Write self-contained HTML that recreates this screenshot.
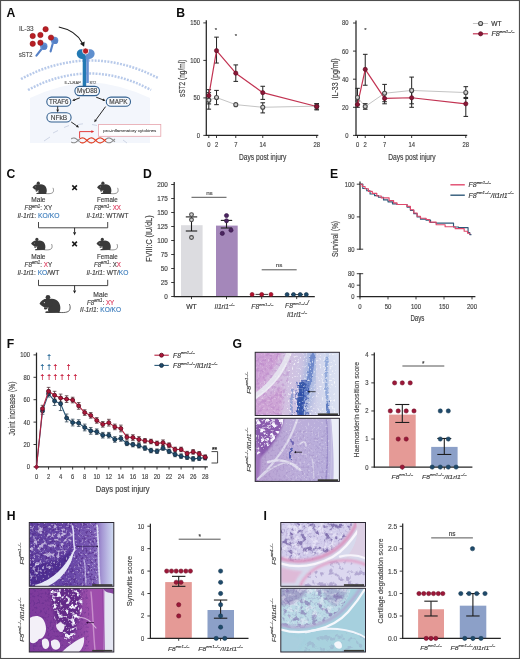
<!DOCTYPE html>
<html lang="en">
<head>
<meta charset="utf-8">
<title>Figure</title>
<style>
html,body{margin:0;padding:0;background:#fff;}
body{width:520px;height:659px;overflow:hidden;}
svg{display:block;font-family:'Liberation Sans', sans-serif;}
svg text{font-family:"Liberation Sans",sans-serif;}
</style>
</head>
<body>
<svg width="520" height="659" viewBox="0 0 520 659">
<rect x="0" y="0" width="520" height="659" fill="#ffffff"/>
<g id="panelB">
<text x="176.2" y="16.9" font-size="12.2" font-weight="bold" fill="#0d0d0d">B</text>
<line x1="206.30" y1="20.30" x2="206.30" y2="135.90" stroke="#242424" stroke-width="1.25"/>
<line x1="205.80" y1="135.40" x2="318.30" y2="135.40" stroke="#242424" stroke-width="1.25"/>
<line x1="203.30" y1="135.40" x2="206.30" y2="135.40" stroke="#242424" stroke-width="0.9"/>
<text x="196.65" y="137.80" font-size="7.3" fill="#444444" stroke="#444444" stroke-width="0.161" font-weight="normal" font-style="normal" textLength="3.25" lengthAdjust="spacingAndGlyphs">0</text>
<line x1="203.30" y1="97.90" x2="206.30" y2="97.90" stroke="#242424" stroke-width="0.9"/>
<text x="193.40" y="100.30" font-size="7.3" fill="#444444" stroke="#444444" stroke-width="0.161" font-weight="normal" font-style="normal" textLength="6.50" lengthAdjust="spacingAndGlyphs">50</text>
<line x1="203.30" y1="60.40" x2="206.30" y2="60.40" stroke="#242424" stroke-width="0.9"/>
<text x="190.15" y="62.80" font-size="7.3" fill="#444444" stroke="#444444" stroke-width="0.161" font-weight="normal" font-style="normal" textLength="9.75" lengthAdjust="spacingAndGlyphs">100</text>
<line x1="203.30" y1="22.90" x2="206.30" y2="22.90" stroke="#242424" stroke-width="0.9"/>
<text x="190.15" y="25.30" font-size="7.3" fill="#444444" stroke="#444444" stroke-width="0.161" font-weight="normal" font-style="normal" textLength="9.75" lengthAdjust="spacingAndGlyphs">150</text>
<line x1="208.80" y1="135.40" x2="208.80" y2="138.00" stroke="#242424" stroke-width="0.9"/>
<text x="207.18" y="146.80" font-size="7.3" fill="#444444" stroke="#444444" stroke-width="0.161" font-weight="normal" font-style="normal" textLength="3.25" lengthAdjust="spacingAndGlyphs">0</text>
<line x1="216.51" y1="135.40" x2="216.51" y2="138.00" stroke="#242424" stroke-width="0.9"/>
<text x="214.88" y="146.80" font-size="7.3" fill="#444444" stroke="#444444" stroke-width="0.161" font-weight="normal" font-style="normal" textLength="3.25" lengthAdjust="spacingAndGlyphs">2</text>
<line x1="235.78" y1="135.40" x2="235.78" y2="138.00" stroke="#242424" stroke-width="0.9"/>
<text x="234.15" y="146.80" font-size="7.3" fill="#444444" stroke="#444444" stroke-width="0.161" font-weight="normal" font-style="normal" textLength="3.25" lengthAdjust="spacingAndGlyphs">7</text>
<line x1="262.76" y1="135.40" x2="262.76" y2="138.00" stroke="#242424" stroke-width="0.9"/>
<text x="259.51" y="146.80" font-size="7.3" fill="#444444" stroke="#444444" stroke-width="0.161" font-weight="normal" font-style="normal" textLength="6.50" lengthAdjust="spacingAndGlyphs">14</text>
<line x1="316.71" y1="135.40" x2="316.71" y2="138.00" stroke="#242424" stroke-width="0.9"/>
<text x="313.46" y="146.80" font-size="7.3" fill="#444444" stroke="#444444" stroke-width="0.161" font-weight="normal" font-style="normal" textLength="6.50" lengthAdjust="spacingAndGlyphs">28</text>
<text x="238.95" y="159.60" font-size="8.2" fill="#444444" stroke="#444444" stroke-width="0.180" font-weight="normal" font-style="normal" textLength="47.50" lengthAdjust="spacingAndGlyphs">Days post injury</text>
<text x="-18.75" y="0.00" font-size="8.2" fill="#444444" stroke="#444444" stroke-width="0.180" font-weight="normal" font-style="normal" textLength="37.50" lengthAdjust="spacingAndGlyphs" transform="translate(185.00 78.35) rotate(-90)">sST2 (ng/ml)</text>
<polyline points="208.80,100.15 216.51,97.53 235.78,104.65 262.76,107.28 316.71,106.15" fill="none" stroke="#c4c4c4" stroke-width="1.0" stroke-linejoin="round"/>
<line x1="208.80" y1="92.65" x2="208.80" y2="109.15" stroke="#2a2a2a" stroke-width="1.05"/>
<line x1="206.50" y1="92.65" x2="211.10" y2="92.65" stroke="#2a2a2a" stroke-width="1.05"/>
<line x1="206.50" y1="109.15" x2="211.10" y2="109.15" stroke="#2a2a2a" stroke-width="1.05"/>
<line x1="216.51" y1="90.40" x2="216.51" y2="104.65" stroke="#2a2a2a" stroke-width="1.05"/>
<line x1="214.21" y1="90.40" x2="218.81" y2="90.40" stroke="#2a2a2a" stroke-width="1.05"/>
<line x1="214.21" y1="104.65" x2="218.81" y2="104.65" stroke="#2a2a2a" stroke-width="1.05"/>
<line x1="262.76" y1="102.78" x2="262.76" y2="112.90" stroke="#2a2a2a" stroke-width="1.05"/>
<line x1="260.46" y1="102.78" x2="265.06" y2="102.78" stroke="#2a2a2a" stroke-width="1.05"/>
<line x1="260.46" y1="112.90" x2="265.06" y2="112.90" stroke="#2a2a2a" stroke-width="1.05"/>
<line x1="316.71" y1="103.90" x2="316.71" y2="109.15" stroke="#2a2a2a" stroke-width="1.05"/>
<line x1="314.41" y1="103.90" x2="319.01" y2="103.90" stroke="#2a2a2a" stroke-width="1.05"/>
<line x1="314.41" y1="109.15" x2="319.01" y2="109.15" stroke="#2a2a2a" stroke-width="1.05"/>
<line x1="208.80" y1="89.65" x2="208.80" y2="103.90" stroke="#2a2a2a" stroke-width="1.05"/>
<line x1="206.50" y1="89.65" x2="211.10" y2="89.65" stroke="#2a2a2a" stroke-width="1.05"/>
<line x1="206.50" y1="103.90" x2="211.10" y2="103.90" stroke="#2a2a2a" stroke-width="1.05"/>
<line x1="216.51" y1="37.15" x2="216.51" y2="63.03" stroke="#2a2a2a" stroke-width="1.05"/>
<line x1="214.21" y1="37.15" x2="218.81" y2="37.15" stroke="#2a2a2a" stroke-width="1.05"/>
<line x1="214.21" y1="63.03" x2="218.81" y2="63.03" stroke="#2a2a2a" stroke-width="1.05"/>
<line x1="235.78" y1="64.90" x2="235.78" y2="81.40" stroke="#2a2a2a" stroke-width="1.05"/>
<line x1="233.48" y1="64.90" x2="238.08" y2="64.90" stroke="#2a2a2a" stroke-width="1.05"/>
<line x1="233.48" y1="81.40" x2="238.08" y2="81.40" stroke="#2a2a2a" stroke-width="1.05"/>
<line x1="262.76" y1="86.28" x2="262.76" y2="99.40" stroke="#2a2a2a" stroke-width="1.05"/>
<line x1="260.46" y1="86.28" x2="265.06" y2="86.28" stroke="#2a2a2a" stroke-width="1.05"/>
<line x1="260.46" y1="99.40" x2="265.06" y2="99.40" stroke="#2a2a2a" stroke-width="1.05"/>
<line x1="316.71" y1="103.53" x2="316.71" y2="109.90" stroke="#2a2a2a" stroke-width="1.05"/>
<line x1="314.41" y1="103.53" x2="319.01" y2="103.53" stroke="#2a2a2a" stroke-width="1.05"/>
<line x1="314.41" y1="109.90" x2="319.01" y2="109.90" stroke="#2a2a2a" stroke-width="1.05"/>
<polyline points="208.80,95.65 216.51,50.65 235.78,73.15 262.76,92.65 316.71,106.53" fill="none" stroke="#c23352" stroke-width="1.2" stroke-linejoin="round"/>
<circle cx="208.80" cy="100.15" r="2.0" fill="#d0d0d0" stroke="#4a4a4a" stroke-width="1.1"/>
<circle cx="216.51" cy="97.53" r="2.0" fill="#d0d0d0" stroke="#4a4a4a" stroke-width="1.1"/>
<circle cx="235.78" cy="104.65" r="2.0" fill="#d0d0d0" stroke="#4a4a4a" stroke-width="1.1"/>
<circle cx="262.76" cy="107.28" r="2.0" fill="#d0d0d0" stroke="#4a4a4a" stroke-width="1.1"/>
<circle cx="316.71" cy="106.15" r="2.0" fill="#d0d0d0" stroke="#4a4a4a" stroke-width="1.1"/>
<circle cx="208.80" cy="95.65" r="2.1" fill="#8c1737" stroke="#5e0d24" stroke-width="0.7"/>
<circle cx="216.51" cy="50.65" r="2.1" fill="#8c1737" stroke="#5e0d24" stroke-width="0.7"/>
<circle cx="235.78" cy="73.15" r="2.1" fill="#8c1737" stroke="#5e0d24" stroke-width="0.7"/>
<circle cx="262.76" cy="92.65" r="2.1" fill="#8c1737" stroke="#5e0d24" stroke-width="0.7"/>
<circle cx="316.71" cy="106.53" r="2.1" fill="#8c1737" stroke="#5e0d24" stroke-width="0.7"/>
<text x="216.00" y="31.50" font-size="6" fill="#333" stroke="#333" stroke-width="0.132" font-weight="normal" font-style="normal" text-anchor="middle">*</text>
<text x="235.80" y="38.00" font-size="6" fill="#333" stroke="#333" stroke-width="0.132" font-weight="normal" font-style="normal" text-anchor="middle">*</text>
<line x1="356.00" y1="20.40" x2="356.00" y2="135.90" stroke="#242424" stroke-width="1.25"/>
<line x1="355.50" y1="135.40" x2="467.20" y2="135.40" stroke="#242424" stroke-width="1.25"/>
<line x1="353.00" y1="135.40" x2="356.00" y2="135.40" stroke="#242424" stroke-width="0.9"/>
<text x="345.35" y="137.80" font-size="7.3" fill="#444444" stroke="#444444" stroke-width="0.161" font-weight="normal" font-style="normal" textLength="3.25" lengthAdjust="spacingAndGlyphs">0</text>
<line x1="353.00" y1="107.30" x2="356.00" y2="107.30" stroke="#242424" stroke-width="0.9"/>
<text x="342.10" y="109.70" font-size="7.3" fill="#444444" stroke="#444444" stroke-width="0.161" font-weight="normal" font-style="normal" textLength="6.50" lengthAdjust="spacingAndGlyphs">20</text>
<line x1="353.00" y1="79.20" x2="356.00" y2="79.20" stroke="#242424" stroke-width="0.9"/>
<text x="342.10" y="81.60" font-size="7.3" fill="#444444" stroke="#444444" stroke-width="0.161" font-weight="normal" font-style="normal" textLength="6.50" lengthAdjust="spacingAndGlyphs">40</text>
<line x1="353.00" y1="51.10" x2="356.00" y2="51.10" stroke="#242424" stroke-width="0.9"/>
<text x="342.10" y="53.50" font-size="7.3" fill="#444444" stroke="#444444" stroke-width="0.161" font-weight="normal" font-style="normal" textLength="6.50" lengthAdjust="spacingAndGlyphs">60</text>
<line x1="353.00" y1="23.00" x2="356.00" y2="23.00" stroke="#242424" stroke-width="0.9"/>
<text x="342.10" y="25.40" font-size="7.3" fill="#444444" stroke="#444444" stroke-width="0.161" font-weight="normal" font-style="normal" textLength="6.50" lengthAdjust="spacingAndGlyphs">80</text>
<line x1="357.50" y1="135.40" x2="357.50" y2="138.00" stroke="#242424" stroke-width="0.9"/>
<text x="355.88" y="146.80" font-size="7.3" fill="#444444" stroke="#444444" stroke-width="0.161" font-weight="normal" font-style="normal" textLength="3.25" lengthAdjust="spacingAndGlyphs">0</text>
<line x1="365.24" y1="135.40" x2="365.24" y2="138.00" stroke="#242424" stroke-width="0.9"/>
<text x="363.61" y="146.80" font-size="7.3" fill="#444444" stroke="#444444" stroke-width="0.161" font-weight="normal" font-style="normal" textLength="3.25" lengthAdjust="spacingAndGlyphs">2</text>
<line x1="384.58" y1="135.40" x2="384.58" y2="138.00" stroke="#242424" stroke-width="0.9"/>
<text x="382.95" y="146.80" font-size="7.3" fill="#444444" stroke="#444444" stroke-width="0.161" font-weight="normal" font-style="normal" textLength="3.25" lengthAdjust="spacingAndGlyphs">7</text>
<line x1="411.65" y1="135.40" x2="411.65" y2="138.00" stroke="#242424" stroke-width="0.9"/>
<text x="408.40" y="146.80" font-size="7.3" fill="#444444" stroke="#444444" stroke-width="0.161" font-weight="normal" font-style="normal" textLength="6.50" lengthAdjust="spacingAndGlyphs">14</text>
<line x1="465.80" y1="135.40" x2="465.80" y2="138.00" stroke="#242424" stroke-width="0.9"/>
<text x="462.55" y="146.80" font-size="7.3" fill="#444444" stroke="#444444" stroke-width="0.161" font-weight="normal" font-style="normal" textLength="6.50" lengthAdjust="spacingAndGlyphs">28</text>
<text x="388.15" y="159.60" font-size="8.2" fill="#444444" stroke="#444444" stroke-width="0.180" font-weight="normal" font-style="normal" textLength="47.50" lengthAdjust="spacingAndGlyphs">Days post injury</text>
<text x="-20.00" y="0.00" font-size="8.2" fill="#444444" stroke="#444444" stroke-width="0.180" font-weight="normal" font-style="normal" textLength="40.00" lengthAdjust="spacingAndGlyphs" transform="translate(337.60 78.40) rotate(-90)">IL-33 (pg/ml)</text>
<polyline points="357.50,97.47 365.24,106.60 384.58,93.25 411.65,90.44 465.80,92.55" fill="none" stroke="#c4c4c4" stroke-width="1.0" stroke-linejoin="round"/>
<line x1="357.50" y1="88.33" x2="357.50" y2="104.49" stroke="#2a2a2a" stroke-width="1.05"/>
<line x1="355.20" y1="88.33" x2="359.80" y2="88.33" stroke="#2a2a2a" stroke-width="1.05"/>
<line x1="355.20" y1="104.49" x2="359.80" y2="104.49" stroke="#2a2a2a" stroke-width="1.05"/>
<line x1="365.24" y1="103.65" x2="365.24" y2="109.27" stroke="#2a2a2a" stroke-width="1.05"/>
<line x1="362.94" y1="103.65" x2="367.54" y2="103.65" stroke="#2a2a2a" stroke-width="1.05"/>
<line x1="362.94" y1="109.27" x2="367.54" y2="109.27" stroke="#2a2a2a" stroke-width="1.05"/>
<line x1="384.58" y1="84.40" x2="384.58" y2="101.68" stroke="#2a2a2a" stroke-width="1.05"/>
<line x1="382.28" y1="84.40" x2="386.88" y2="84.40" stroke="#2a2a2a" stroke-width="1.05"/>
<line x1="382.28" y1="101.68" x2="386.88" y2="101.68" stroke="#2a2a2a" stroke-width="1.05"/>
<line x1="411.65" y1="77.09" x2="411.65" y2="103.79" stroke="#2a2a2a" stroke-width="1.05"/>
<line x1="409.35" y1="77.09" x2="413.95" y2="77.09" stroke="#2a2a2a" stroke-width="1.05"/>
<line x1="409.35" y1="103.79" x2="413.95" y2="103.79" stroke="#2a2a2a" stroke-width="1.05"/>
<line x1="465.80" y1="86.65" x2="465.80" y2="97.47" stroke="#2a2a2a" stroke-width="1.05"/>
<line x1="463.50" y1="86.65" x2="468.10" y2="86.65" stroke="#2a2a2a" stroke-width="1.05"/>
<line x1="463.50" y1="97.47" x2="468.10" y2="97.47" stroke="#2a2a2a" stroke-width="1.05"/>
<line x1="357.50" y1="100.98" x2="357.50" y2="107.30" stroke="#2a2a2a" stroke-width="1.05"/>
<line x1="355.20" y1="100.98" x2="359.80" y2="100.98" stroke="#2a2a2a" stroke-width="1.05"/>
<line x1="355.20" y1="107.30" x2="359.80" y2="107.30" stroke="#2a2a2a" stroke-width="1.05"/>
<line x1="365.24" y1="54.33" x2="365.24" y2="85.24" stroke="#2a2a2a" stroke-width="1.05"/>
<line x1="362.94" y1="54.33" x2="367.54" y2="54.33" stroke="#2a2a2a" stroke-width="1.05"/>
<line x1="362.94" y1="85.24" x2="367.54" y2="85.24" stroke="#2a2a2a" stroke-width="1.05"/>
<line x1="384.58" y1="93.25" x2="384.58" y2="103.79" stroke="#2a2a2a" stroke-width="1.05"/>
<line x1="382.28" y1="93.25" x2="386.88" y2="93.25" stroke="#2a2a2a" stroke-width="1.05"/>
<line x1="382.28" y1="103.79" x2="386.88" y2="103.79" stroke="#2a2a2a" stroke-width="1.05"/>
<line x1="411.65" y1="89.03" x2="411.65" y2="107.30" stroke="#2a2a2a" stroke-width="1.05"/>
<line x1="409.35" y1="89.03" x2="413.95" y2="89.03" stroke="#2a2a2a" stroke-width="1.05"/>
<line x1="409.35" y1="107.30" x2="413.95" y2="107.30" stroke="#2a2a2a" stroke-width="1.05"/>
<line x1="465.80" y1="98.45" x2="465.80" y2="116.43" stroke="#2a2a2a" stroke-width="1.05"/>
<line x1="463.50" y1="98.45" x2="468.10" y2="98.45" stroke="#2a2a2a" stroke-width="1.05"/>
<line x1="463.50" y1="116.43" x2="468.10" y2="116.43" stroke="#2a2a2a" stroke-width="1.05"/>
<polyline points="357.50,104.49 365.24,69.37 384.58,98.45 411.65,97.75 465.80,103.79" fill="none" stroke="#c23352" stroke-width="1.2" stroke-linejoin="round"/>
<circle cx="357.50" cy="97.47" r="2.0" fill="#d0d0d0" stroke="#4a4a4a" stroke-width="1.1"/>
<circle cx="365.24" cy="106.60" r="2.0" fill="#d0d0d0" stroke="#4a4a4a" stroke-width="1.1"/>
<circle cx="384.58" cy="93.25" r="2.0" fill="#d0d0d0" stroke="#4a4a4a" stroke-width="1.1"/>
<circle cx="411.65" cy="90.44" r="2.0" fill="#d0d0d0" stroke="#4a4a4a" stroke-width="1.1"/>
<circle cx="465.80" cy="92.55" r="2.0" fill="#d0d0d0" stroke="#4a4a4a" stroke-width="1.1"/>
<circle cx="357.50" cy="104.49" r="2.1" fill="#8c1737" stroke="#5e0d24" stroke-width="0.7"/>
<circle cx="365.24" cy="69.37" r="2.1" fill="#8c1737" stroke="#5e0d24" stroke-width="0.7"/>
<circle cx="384.58" cy="98.45" r="2.1" fill="#8c1737" stroke="#5e0d24" stroke-width="0.7"/>
<circle cx="411.65" cy="97.75" r="2.1" fill="#8c1737" stroke="#5e0d24" stroke-width="0.7"/>
<circle cx="465.80" cy="103.79" r="2.1" fill="#8c1737" stroke="#5e0d24" stroke-width="0.7"/>
<text x="365.40" y="31.50" font-size="6" fill="#333" stroke="#333" stroke-width="0.132" font-weight="normal" font-style="normal" text-anchor="middle">*</text>
<line x1="472.90" y1="23.50" x2="487.90" y2="23.50" stroke="#c4c4c4" stroke-width="1.0"/>
<circle cx="480.60" cy="23.50" r="2.0" fill="#d0d0d0" stroke="#4a4a4a" stroke-width="1.1"/>
<text x="491.20" y="26.00" font-size="6.6" fill="#333" stroke="#333" stroke-width="0.145" font-weight="normal" font-style="normal">WT</text>
<line x1="472.90" y1="33.80" x2="487.90" y2="33.80" stroke="#c23352" stroke-width="1.2"/>
<circle cx="480.60" cy="33.80" r="2.1" fill="#8c1737" stroke="#5e0d24" stroke-width="0.7"/>
<text x="491.40" y="36.30" font-size="6.6" fill="#333" stroke="#333" stroke-width="0.145" font-weight="normal" font-style="normal" textLength="23.00" lengthAdjust="spacingAndGlyphs"><tspan font-style="italic">F8</tspan><tspan font-size="4.09" dy="-3.3" font-style="italic">em1–/–</tspan><tspan dy="3.3" font-size="6.6"></tspan></text>
</g>
<g id="panelD">
<text x="143.0" y="178.1" font-size="12.2" font-weight="bold" fill="#0d0d0d">D</text>
<line x1="174.20" y1="182.00" x2="174.20" y2="297.00" stroke="#242424" stroke-width="1.25"/>
<line x1="171.20" y1="296.50" x2="174.20" y2="296.50" stroke="#242424" stroke-width="0.9"/>
<text x="164.35" y="298.95" font-size="6.9" fill="#444444" stroke="#444444" stroke-width="0.152" font-weight="normal" font-style="normal" textLength="3.55" lengthAdjust="spacingAndGlyphs">0</text>
<line x1="171.20" y1="282.50" x2="174.20" y2="282.50" stroke="#242424" stroke-width="0.9"/>
<text x="160.80" y="284.95" font-size="6.9" fill="#444444" stroke="#444444" stroke-width="0.152" font-weight="normal" font-style="normal" textLength="7.10" lengthAdjust="spacingAndGlyphs">25</text>
<line x1="171.20" y1="268.50" x2="174.20" y2="268.50" stroke="#242424" stroke-width="0.9"/>
<text x="160.80" y="270.95" font-size="6.9" fill="#444444" stroke="#444444" stroke-width="0.152" font-weight="normal" font-style="normal" textLength="7.10" lengthAdjust="spacingAndGlyphs">50</text>
<line x1="171.20" y1="254.50" x2="174.20" y2="254.50" stroke="#242424" stroke-width="0.9"/>
<text x="160.80" y="256.95" font-size="6.9" fill="#444444" stroke="#444444" stroke-width="0.152" font-weight="normal" font-style="normal" textLength="7.10" lengthAdjust="spacingAndGlyphs">75</text>
<line x1="171.20" y1="240.50" x2="174.20" y2="240.50" stroke="#242424" stroke-width="0.9"/>
<text x="157.25" y="242.95" font-size="6.9" fill="#444444" stroke="#444444" stroke-width="0.152" font-weight="normal" font-style="normal" textLength="10.65" lengthAdjust="spacingAndGlyphs">100</text>
<line x1="171.20" y1="226.50" x2="174.20" y2="226.50" stroke="#242424" stroke-width="0.9"/>
<text x="157.25" y="228.95" font-size="6.9" fill="#444444" stroke="#444444" stroke-width="0.152" font-weight="normal" font-style="normal" textLength="10.65" lengthAdjust="spacingAndGlyphs">125</text>
<line x1="171.20" y1="212.50" x2="174.20" y2="212.50" stroke="#242424" stroke-width="0.9"/>
<text x="157.25" y="214.95" font-size="6.9" fill="#444444" stroke="#444444" stroke-width="0.152" font-weight="normal" font-style="normal" textLength="10.65" lengthAdjust="spacingAndGlyphs">150</text>
<line x1="171.20" y1="198.50" x2="174.20" y2="198.50" stroke="#242424" stroke-width="0.9"/>
<text x="157.25" y="200.95" font-size="6.9" fill="#444444" stroke="#444444" stroke-width="0.152" font-weight="normal" font-style="normal" textLength="10.65" lengthAdjust="spacingAndGlyphs">175</text>
<line x1="171.20" y1="184.50" x2="174.20" y2="184.50" stroke="#242424" stroke-width="0.9"/>
<text x="157.25" y="186.95" font-size="6.9" fill="#444444" stroke="#444444" stroke-width="0.152" font-weight="normal" font-style="normal" textLength="10.65" lengthAdjust="spacingAndGlyphs">200</text>
<line x1="173.70" y1="296.50" x2="314.80" y2="296.50" stroke="#242424" stroke-width="1.25"/>
<text x="-23.15" y="0.00" font-size="8.2" fill="#444444" stroke="#444444" stroke-width="0.180" font-weight="normal" font-style="normal" textLength="46.30" lengthAdjust="spacingAndGlyphs" transform="translate(151.60 238.60) rotate(-90)">FVIII:C (IU/dL)</text>
<rect x="181.00" y="225.20" width="21.60" height="70.80" fill="#dcdce0" stroke="none" stroke-width="1"/>
<rect x="216.00" y="225.60" width="21.70" height="70.40" fill="#a487ba" stroke="none" stroke-width="1"/>
<line x1="191.50" y1="296.50" x2="191.50" y2="299.10" stroke="#242424" stroke-width="0.9"/>
<line x1="226.50" y1="296.50" x2="226.50" y2="299.10" stroke="#242424" stroke-width="0.9"/>
<line x1="261.70" y1="296.50" x2="261.70" y2="299.10" stroke="#242424" stroke-width="0.9"/>
<line x1="296.70" y1="296.50" x2="296.70" y2="299.10" stroke="#242424" stroke-width="0.9"/>
<line x1="191.50" y1="216.90" x2="191.50" y2="231.00" stroke="#1e1e1e" stroke-width="1.1"/>
<line x1="185.80" y1="216.90" x2="197.20" y2="216.90" stroke="#1e1e1e" stroke-width="1.1"/>
<line x1="185.80" y1="231.00" x2="197.20" y2="231.00" stroke="#1e1e1e" stroke-width="1.1"/>
<circle cx="191.50" cy="214.60" r="1.9" fill="#d0d0d0" stroke="#4a4a4a" stroke-width="1.1"/>
<circle cx="191.50" cy="219.80" r="1.9" fill="#d0d0d0" stroke="#4a4a4a" stroke-width="1.1"/>
<circle cx="191.50" cy="237.50" r="1.9" fill="#d0d0d0" stroke="#4a4a4a" stroke-width="1.1"/>
<line x1="226.50" y1="220.40" x2="226.50" y2="228.00" stroke="#1e1e1e" stroke-width="1.1"/>
<line x1="220.80" y1="220.40" x2="232.20" y2="220.40" stroke="#1e1e1e" stroke-width="1.1"/>
<line x1="220.80" y1="228.00" x2="232.20" y2="228.00" stroke="#1e1e1e" stroke-width="1.1"/>
<circle cx="226.50" cy="215.60" r="2.1" fill="#4b2460" stroke="#341545" stroke-width="0.6"/>
<circle cx="226.50" cy="220.80" r="2.1" fill="#4b2460" stroke="#341545" stroke-width="0.6"/>
<circle cx="231.00" cy="230.20" r="2.1" fill="#4b2460" stroke="#341545" stroke-width="0.6"/>
<circle cx="222.30" cy="233.40" r="2.1" fill="#4b2460" stroke="#341545" stroke-width="0.6"/>
<line x1="255.50" y1="294.40" x2="268.00" y2="294.40" stroke="#2b2b2b" stroke-width="0.9"/>
<circle cx="252.10" cy="294.40" r="2.0" fill="#b4122f" stroke="#7e0b20" stroke-width="0.6"/>
<circle cx="261.70" cy="294.40" r="2.0" fill="#b4122f" stroke="#7e0b20" stroke-width="0.6"/>
<circle cx="271.00" cy="294.40" r="2.0" fill="#b4122f" stroke="#7e0b20" stroke-width="0.6"/>
<line x1="291.00" y1="294.60" x2="303.00" y2="294.60" stroke="#2b2b2b" stroke-width="0.9"/>
<circle cx="287.10" cy="294.50" r="2.0" fill="#1f4a6b" stroke="#14324a" stroke-width="0.6"/>
<circle cx="293.50" cy="294.50" r="2.0" fill="#1f4a6b" stroke="#14324a" stroke-width="0.6"/>
<circle cx="300.20" cy="294.50" r="2.0" fill="#1f4a6b" stroke="#14324a" stroke-width="0.6"/>
<circle cx="306.30" cy="294.50" r="2.0" fill="#1f4a6b" stroke="#14324a" stroke-width="0.6"/>
<line x1="191.50" y1="197.30" x2="226.50" y2="197.30" stroke="#555" stroke-width="1.0"/>
<text x="209.40" y="195.40" font-size="6.2" fill="#444" stroke="#444" stroke-width="0.136" font-weight="normal" font-style="normal" text-anchor="middle">ns</text>
<line x1="261.70" y1="269.80" x2="296.70" y2="269.80" stroke="#555" stroke-width="1.0"/>
<text x="279.00" y="267.20" font-size="6.2" fill="#444" stroke="#444" stroke-width="0.136" font-weight="normal" font-style="normal" text-anchor="middle">ns</text>
<text x="191.50" y="308.80" font-size="6.8" fill="#333" stroke="#333" stroke-width="0.150" font-weight="normal" font-style="normal" text-anchor="middle">WT</text>
<text x="214.60" y="308.80" font-size="6.4" fill="#3c3c3c" stroke="#3c3c3c" stroke-width="0.141" font-weight="normal" font-style="normal" textLength="20.00" lengthAdjust="spacingAndGlyphs"><tspan font-style="italic">Il1rl1</tspan><tspan font-size="3.97" dy="-3.2" font-style="italic">–/–</tspan><tspan dy="3.2" font-size="6.4"></tspan></text>
<text x="251.30" y="308.80" font-size="6.4" fill="#3c3c3c" stroke="#3c3c3c" stroke-width="0.141" font-weight="normal" font-style="normal" textLength="22.00" lengthAdjust="spacingAndGlyphs"><tspan font-style="italic">F8</tspan><tspan font-size="3.97" dy="-3.2" font-style="italic">em1–/–</tspan><tspan dy="3.2" font-size="6.4"></tspan></text>
<text x="285.10" y="308.40" font-size="6.4" fill="#3c3c3c" stroke="#3c3c3c" stroke-width="0.141" font-weight="normal" font-style="normal" textLength="23.80" lengthAdjust="spacingAndGlyphs"><tspan font-style="italic">F8</tspan><tspan font-size="3.97" dy="-3.2" font-style="italic">em1–/–</tspan><tspan dy="3.2" font-size="6.4"></tspan><tspan font-style="italic">/</tspan></text>
<text x="287.00" y="316.80" font-size="6.4" fill="#3c3c3c" stroke="#3c3c3c" stroke-width="0.141" font-weight="normal" font-style="normal" textLength="20.00" lengthAdjust="spacingAndGlyphs"><tspan font-style="italic">Il1rl1</tspan><tspan font-size="3.97" dy="-3.2" font-style="italic">–/–</tspan><tspan dy="3.2" font-size="6.4"></tspan></text>
</g>
<g id="panelE">
<text x="329.9" y="178.1" font-size="12.2" font-weight="bold" fill="#0d0d0d">E</text>
<line x1="360.00" y1="181.40" x2="360.00" y2="249.70" stroke="#242424" stroke-width="1.25"/>
<line x1="356.80" y1="184.20" x2="363.20" y2="184.20" stroke="#242424" stroke-width="0.9"/>
<text x="344.85" y="186.70" font-size="7.3" fill="#444444" stroke="#444444" stroke-width="0.161" font-weight="normal" font-style="normal" textLength="9.75" lengthAdjust="spacingAndGlyphs">100</text>
<line x1="356.80" y1="216.90" x2="360.00" y2="216.90" stroke="#242424" stroke-width="0.9"/>
<text x="348.10" y="219.40" font-size="7.3" fill="#444444" stroke="#444444" stroke-width="0.161" font-weight="normal" font-style="normal" textLength="6.50" lengthAdjust="spacingAndGlyphs">90</text>
<line x1="356.80" y1="249.20" x2="363.20" y2="249.20" stroke="#242424" stroke-width="0.9"/>
<text x="348.10" y="251.70" font-size="7.3" fill="#444444" stroke="#444444" stroke-width="0.161" font-weight="normal" font-style="normal" textLength="6.50" lengthAdjust="spacingAndGlyphs">80</text>
<line x1="360.00" y1="273.20" x2="360.00" y2="297.20" stroke="#242424" stroke-width="1.25"/>
<line x1="356.80" y1="273.70" x2="363.20" y2="273.70" stroke="#242424" stroke-width="0.9"/>
<text x="348.10" y="276.20" font-size="7.3" fill="#444444" stroke="#444444" stroke-width="0.161" font-weight="normal" font-style="normal" textLength="6.50" lengthAdjust="spacingAndGlyphs">80</text>
<line x1="356.80" y1="285.20" x2="360.00" y2="285.20" stroke="#242424" stroke-width="0.9"/>
<text x="348.10" y="287.70" font-size="7.3" fill="#444444" stroke="#444444" stroke-width="0.161" font-weight="normal" font-style="normal" textLength="6.50" lengthAdjust="spacingAndGlyphs">40</text>
<line x1="356.80" y1="296.70" x2="360.00" y2="296.70" stroke="#242424" stroke-width="0.9"/>
<text x="351.35" y="299.20" font-size="7.3" fill="#444444" stroke="#444444" stroke-width="0.161" font-weight="normal" font-style="normal" textLength="3.25" lengthAdjust="spacingAndGlyphs">0</text>
<line x1="359.50" y1="296.70" x2="475.40" y2="296.70" stroke="#242424" stroke-width="1.25"/>
<line x1="360.00" y1="296.70" x2="360.00" y2="299.40" stroke="#242424" stroke-width="0.9"/>
<text x="358.32" y="308.80" font-size="7.5" fill="#444444" stroke="#444444" stroke-width="0.165" font-weight="normal" font-style="normal" textLength="3.35" lengthAdjust="spacingAndGlyphs">0</text>
<line x1="388.00" y1="296.70" x2="388.00" y2="299.40" stroke="#242424" stroke-width="0.9"/>
<text x="384.65" y="308.80" font-size="7.5" fill="#444444" stroke="#444444" stroke-width="0.165" font-weight="normal" font-style="normal" textLength="6.70" lengthAdjust="spacingAndGlyphs">50</text>
<line x1="416.00" y1="296.70" x2="416.00" y2="299.40" stroke="#242424" stroke-width="0.9"/>
<text x="410.98" y="308.80" font-size="7.5" fill="#444444" stroke="#444444" stroke-width="0.165" font-weight="normal" font-style="normal" textLength="10.05" lengthAdjust="spacingAndGlyphs">100</text>
<line x1="444.00" y1="296.70" x2="444.00" y2="299.40" stroke="#242424" stroke-width="0.9"/>
<text x="438.98" y="308.80" font-size="7.5" fill="#444444" stroke="#444444" stroke-width="0.165" font-weight="normal" font-style="normal" textLength="10.05" lengthAdjust="spacingAndGlyphs">150</text>
<line x1="472.00" y1="296.70" x2="472.00" y2="299.40" stroke="#242424" stroke-width="0.9"/>
<text x="466.98" y="308.80" font-size="7.5" fill="#444444" stroke="#444444" stroke-width="0.165" font-weight="normal" font-style="normal" textLength="10.05" lengthAdjust="spacingAndGlyphs">200</text>
<text x="410.40" y="320.60" font-size="8.2" fill="#444444" stroke="#444444" stroke-width="0.180" font-weight="normal" font-style="normal" textLength="14.00" lengthAdjust="spacingAndGlyphs">Days</text>
<text x="-18.10" y="0.00" font-size="8.2" fill="#444444" stroke="#444444" stroke-width="0.180" font-weight="normal" font-style="normal" textLength="36.20" lengthAdjust="spacingAndGlyphs" transform="translate(338.00 239.00) rotate(-90)">Survival (%)</text>
<polyline points="360.00,184.20 362.80,184.20 362.80,188.45 366.72,188.45 366.72,190.74 370.08,190.74 370.08,194.01 374.56,194.01 374.56,195.64 378.48,195.64 378.48,197.28 383.52,197.28 383.52,199.90 388.00,199.90 388.00,201.86 392.48,201.86 392.48,203.82 396.96,203.82 396.96,204.47 407.04,204.47 407.04,207.09 410.40,207.09 410.40,210.36 413.76,210.36 413.76,213.63 417.12,213.63 417.12,216.90 420.48,216.90 420.48,219.19 426.08,219.19 426.08,220.17 430.56,220.17 430.56,222.46 436.16,222.46 436.16,223.11 444.00,223.11 444.00,223.11 453.52,223.11 453.52,227.04 458.56,227.04 458.56,227.69 468.08,227.69 468.08,232.60 469.76,232.60 469.76,234.56 471.44,234.56 471.44,234.56" fill="none" stroke="#2f5878" stroke-width="1.15" stroke-linejoin="round" stroke-linejoin="miter"/>
<polyline points="360.00,184.20 362.24,184.20 362.24,186.49 365.04,186.49 365.04,188.78 368.40,188.78 368.40,191.39 372.32,191.39 372.32,193.36 376.80,193.36 376.80,195.97 381.28,195.97 381.28,197.93 385.76,197.93 385.76,197.93 389.12,197.93 389.12,200.55 393.60,200.55 393.60,202.84 396.96,202.84 396.96,204.47 407.04,204.47 407.04,206.44 410.40,206.44 410.40,209.71 413.76,209.71 413.76,212.98 417.12,212.98 417.12,216.25 420.48,216.25 420.48,218.21 426.08,218.21 426.08,219.52 429.44,219.52 429.44,222.13 436.16,222.13 436.16,224.75 445.12,224.75 445.12,226.71 455.20,226.71 455.20,228.67 460.80,228.67 460.80,228.67 464.16,228.67 464.16,231.29 467.52,231.29 467.52,233.25 469.76,233.25 469.76,234.56" fill="none" stroke="#e0496c" stroke-width="1.15" stroke-linejoin="round" stroke-linejoin="miter"/>
<line x1="450.40" y1="184.80" x2="464.80" y2="184.80" stroke="#e0496c" stroke-width="1.4"/>
<text x="468.60" y="187.20" font-size="6.3" fill="#333" stroke="#333" stroke-width="0.139" font-weight="normal" font-style="normal" textLength="22.40" lengthAdjust="spacingAndGlyphs"><tspan font-style="italic">F8</tspan><tspan font-size="3.91" dy="-3.15" font-style="italic">em1–/–</tspan><tspan dy="3.15" font-size="6.3"></tspan></text>
<line x1="450.40" y1="195.20" x2="464.80" y2="195.20" stroke="#2f5878" stroke-width="1.4"/>
<text x="468.60" y="197.60" font-size="6.3" fill="#333" stroke="#333" stroke-width="0.139" font-weight="normal" font-style="normal" textLength="45.00" lengthAdjust="spacingAndGlyphs"><tspan font-style="italic">F8</tspan><tspan font-size="3.91" dy="-3.15" font-style="italic">em1–/–</tspan><tspan dy="3.15" font-size="6.3" font-style="italic">/Il1rl1</tspan><tspan font-size="3.91" dy="-3.15" font-style="italic">–/–</tspan></text>
</g>
<g id="panelF">
<text x="6.8" y="348.2" font-size="12.2" font-weight="bold" fill="#0d0d0d">F</text>
<line x1="36.50" y1="352.60" x2="36.50" y2="467.40" stroke="#242424" stroke-width="1.25"/>
<line x1="33.50" y1="466.90" x2="36.50" y2="466.90" stroke="#242424" stroke-width="0.9"/>
<text x="26.75" y="469.35" font-size="7.3" fill="#444444" stroke="#444444" stroke-width="0.161" font-weight="normal" font-style="normal" textLength="3.25" lengthAdjust="spacingAndGlyphs">0</text>
<line x1="33.50" y1="444.50" x2="36.50" y2="444.50" stroke="#242424" stroke-width="0.9"/>
<text x="23.50" y="446.95" font-size="7.3" fill="#444444" stroke="#444444" stroke-width="0.161" font-weight="normal" font-style="normal" textLength="6.50" lengthAdjust="spacingAndGlyphs">20</text>
<line x1="33.50" y1="422.10" x2="36.50" y2="422.10" stroke="#242424" stroke-width="0.9"/>
<text x="23.50" y="424.55" font-size="7.3" fill="#444444" stroke="#444444" stroke-width="0.161" font-weight="normal" font-style="normal" textLength="6.50" lengthAdjust="spacingAndGlyphs">40</text>
<line x1="33.50" y1="399.70" x2="36.50" y2="399.70" stroke="#242424" stroke-width="0.9"/>
<text x="23.50" y="402.15" font-size="7.3" fill="#444444" stroke="#444444" stroke-width="0.161" font-weight="normal" font-style="normal" textLength="6.50" lengthAdjust="spacingAndGlyphs">60</text>
<line x1="33.50" y1="377.30" x2="36.50" y2="377.30" stroke="#242424" stroke-width="0.9"/>
<text x="23.50" y="379.75" font-size="7.3" fill="#444444" stroke="#444444" stroke-width="0.161" font-weight="normal" font-style="normal" textLength="6.50" lengthAdjust="spacingAndGlyphs">80</text>
<line x1="33.50" y1="354.90" x2="36.50" y2="354.90" stroke="#242424" stroke-width="0.9"/>
<text x="20.25" y="357.35" font-size="7.3" fill="#444444" stroke="#444444" stroke-width="0.161" font-weight="normal" font-style="normal" textLength="9.75" lengthAdjust="spacingAndGlyphs">100</text>
<line x1="36.00" y1="466.90" x2="207.80" y2="466.90" stroke="#242424" stroke-width="1.25"/>
<line x1="36.50" y1="466.90" x2="36.50" y2="469.50" stroke="#242424" stroke-width="0.9"/>
<text x="34.88" y="478.50" font-size="7.3" fill="#444444" stroke="#444444" stroke-width="0.161" font-weight="normal" font-style="normal" textLength="3.25" lengthAdjust="spacingAndGlyphs">0</text>
<line x1="48.55" y1="466.90" x2="48.55" y2="469.50" stroke="#242424" stroke-width="0.9"/>
<text x="46.92" y="478.50" font-size="7.3" fill="#444444" stroke="#444444" stroke-width="0.161" font-weight="normal" font-style="normal" textLength="3.25" lengthAdjust="spacingAndGlyphs">2</text>
<line x1="60.60" y1="466.90" x2="60.60" y2="469.50" stroke="#242424" stroke-width="0.9"/>
<text x="58.98" y="478.50" font-size="7.3" fill="#444444" stroke="#444444" stroke-width="0.161" font-weight="normal" font-style="normal" textLength="3.25" lengthAdjust="spacingAndGlyphs">4</text>
<line x1="72.65" y1="466.90" x2="72.65" y2="469.50" stroke="#242424" stroke-width="0.9"/>
<text x="71.03" y="478.50" font-size="7.3" fill="#444444" stroke="#444444" stroke-width="0.161" font-weight="normal" font-style="normal" textLength="3.25" lengthAdjust="spacingAndGlyphs">6</text>
<line x1="84.70" y1="466.90" x2="84.70" y2="469.50" stroke="#242424" stroke-width="0.9"/>
<text x="83.08" y="478.50" font-size="7.3" fill="#444444" stroke="#444444" stroke-width="0.161" font-weight="normal" font-style="normal" textLength="3.25" lengthAdjust="spacingAndGlyphs">8</text>
<line x1="96.75" y1="466.90" x2="96.75" y2="469.50" stroke="#242424" stroke-width="0.9"/>
<text x="93.50" y="478.50" font-size="7.3" fill="#444444" stroke="#444444" stroke-width="0.161" font-weight="normal" font-style="normal" textLength="6.50" lengthAdjust="spacingAndGlyphs">10</text>
<line x1="108.80" y1="466.90" x2="108.80" y2="469.50" stroke="#242424" stroke-width="0.9"/>
<text x="105.55" y="478.50" font-size="7.3" fill="#444444" stroke="#444444" stroke-width="0.161" font-weight="normal" font-style="normal" textLength="6.50" lengthAdjust="spacingAndGlyphs">12</text>
<line x1="120.85" y1="466.90" x2="120.85" y2="469.50" stroke="#242424" stroke-width="0.9"/>
<text x="117.60" y="478.50" font-size="7.3" fill="#444444" stroke="#444444" stroke-width="0.161" font-weight="normal" font-style="normal" textLength="6.50" lengthAdjust="spacingAndGlyphs">14</text>
<line x1="132.90" y1="466.90" x2="132.90" y2="469.50" stroke="#242424" stroke-width="0.9"/>
<text x="129.65" y="478.50" font-size="7.3" fill="#444444" stroke="#444444" stroke-width="0.161" font-weight="normal" font-style="normal" textLength="6.50" lengthAdjust="spacingAndGlyphs">16</text>
<line x1="144.95" y1="466.90" x2="144.95" y2="469.50" stroke="#242424" stroke-width="0.9"/>
<text x="141.70" y="478.50" font-size="7.3" fill="#444444" stroke="#444444" stroke-width="0.161" font-weight="normal" font-style="normal" textLength="6.50" lengthAdjust="spacingAndGlyphs">18</text>
<line x1="157.00" y1="466.90" x2="157.00" y2="469.50" stroke="#242424" stroke-width="0.9"/>
<text x="153.75" y="478.50" font-size="7.3" fill="#444444" stroke="#444444" stroke-width="0.161" font-weight="normal" font-style="normal" textLength="6.50" lengthAdjust="spacingAndGlyphs">20</text>
<line x1="169.05" y1="466.90" x2="169.05" y2="469.50" stroke="#242424" stroke-width="0.9"/>
<text x="165.80" y="478.50" font-size="7.3" fill="#444444" stroke="#444444" stroke-width="0.161" font-weight="normal" font-style="normal" textLength="6.50" lengthAdjust="spacingAndGlyphs">22</text>
<line x1="181.10" y1="466.90" x2="181.10" y2="469.50" stroke="#242424" stroke-width="0.9"/>
<text x="177.85" y="478.50" font-size="7.3" fill="#444444" stroke="#444444" stroke-width="0.161" font-weight="normal" font-style="normal" textLength="6.50" lengthAdjust="spacingAndGlyphs">24</text>
<line x1="193.15" y1="466.90" x2="193.15" y2="469.50" stroke="#242424" stroke-width="0.9"/>
<text x="189.90" y="478.50" font-size="7.3" fill="#444444" stroke="#444444" stroke-width="0.161" font-weight="normal" font-style="normal" textLength="6.50" lengthAdjust="spacingAndGlyphs">26</text>
<line x1="205.20" y1="466.90" x2="205.20" y2="469.50" stroke="#242424" stroke-width="0.9"/>
<text x="201.95" y="478.50" font-size="7.3" fill="#444444" stroke="#444444" stroke-width="0.161" font-weight="normal" font-style="normal" textLength="6.50" lengthAdjust="spacingAndGlyphs">28</text>
<text x="95.80" y="492.00" font-size="8.2" fill="#444444" stroke="#444444" stroke-width="0.180" font-weight="normal" font-style="normal" textLength="53.80" lengthAdjust="spacingAndGlyphs">Days post injury</text>
<text x="-27.00" y="0.00" font-size="8.2" fill="#444444" stroke="#444444" stroke-width="0.180" font-weight="normal" font-style="normal" textLength="54.00" lengthAdjust="spacingAndGlyphs" transform="translate(15.40 408.60) rotate(-90)">Joint increase (%)</text>
<line x1="42.52" y1="407.54" x2="42.52" y2="414.26" stroke="#2a3f50" stroke-width="0.75"/>
<line x1="40.73" y1="407.54" x2="44.32" y2="407.54" stroke="#2a3f50" stroke-width="0.75"/>
<line x1="40.73" y1="414.26" x2="44.32" y2="414.26" stroke="#2a3f50" stroke-width="0.75"/>
<line x1="42.52" y1="405.30" x2="42.52" y2="412.02" stroke="#4a2a30" stroke-width="0.75"/>
<line x1="40.73" y1="405.30" x2="44.32" y2="405.30" stroke="#4a2a30" stroke-width="0.75"/>
<line x1="40.73" y1="412.02" x2="44.32" y2="412.02" stroke="#4a2a30" stroke-width="0.75"/>
<line x1="48.55" y1="390.29" x2="48.55" y2="397.01" stroke="#2a3f50" stroke-width="0.75"/>
<line x1="46.75" y1="390.29" x2="50.35" y2="390.29" stroke="#2a3f50" stroke-width="0.75"/>
<line x1="46.75" y1="397.01" x2="50.35" y2="397.01" stroke="#2a3f50" stroke-width="0.75"/>
<line x1="48.55" y1="387.38" x2="48.55" y2="395.22" stroke="#4a2a30" stroke-width="0.75"/>
<line x1="46.75" y1="387.38" x2="50.35" y2="387.38" stroke="#4a2a30" stroke-width="0.75"/>
<line x1="46.75" y1="395.22" x2="50.35" y2="395.22" stroke="#4a2a30" stroke-width="0.75"/>
<line x1="54.58" y1="396.56" x2="54.58" y2="405.52" stroke="#2a3f50" stroke-width="0.75"/>
<line x1="52.78" y1="396.56" x2="56.38" y2="396.56" stroke="#2a3f50" stroke-width="0.75"/>
<line x1="52.78" y1="405.52" x2="56.38" y2="405.52" stroke="#2a3f50" stroke-width="0.75"/>
<line x1="54.58" y1="391.30" x2="54.58" y2="399.14" stroke="#4a2a30" stroke-width="0.75"/>
<line x1="52.78" y1="391.30" x2="56.38" y2="391.30" stroke="#4a2a30" stroke-width="0.75"/>
<line x1="52.78" y1="399.14" x2="56.38" y2="399.14" stroke="#4a2a30" stroke-width="0.75"/>
<line x1="60.60" y1="397.12" x2="60.60" y2="410.56" stroke="#2a3f50" stroke-width="0.75"/>
<line x1="58.80" y1="397.12" x2="62.40" y2="397.12" stroke="#2a3f50" stroke-width="0.75"/>
<line x1="58.80" y1="410.56" x2="62.40" y2="410.56" stroke="#2a3f50" stroke-width="0.75"/>
<line x1="60.60" y1="394.10" x2="60.60" y2="401.94" stroke="#4a2a30" stroke-width="0.75"/>
<line x1="58.80" y1="394.10" x2="62.40" y2="394.10" stroke="#4a2a30" stroke-width="0.75"/>
<line x1="58.80" y1="401.94" x2="62.40" y2="401.94" stroke="#4a2a30" stroke-width="0.75"/>
<line x1="66.62" y1="414.04" x2="66.62" y2="421.88" stroke="#2a3f50" stroke-width="0.75"/>
<line x1="64.83" y1="414.04" x2="68.42" y2="414.04" stroke="#2a3f50" stroke-width="0.75"/>
<line x1="64.83" y1="421.88" x2="68.42" y2="421.88" stroke="#2a3f50" stroke-width="0.75"/>
<line x1="66.62" y1="395.78" x2="66.62" y2="402.50" stroke="#4a2a30" stroke-width="0.75"/>
<line x1="64.83" y1="395.78" x2="68.42" y2="395.78" stroke="#4a2a30" stroke-width="0.75"/>
<line x1="64.83" y1="402.50" x2="68.42" y2="402.50" stroke="#4a2a30" stroke-width="0.75"/>
<line x1="72.65" y1="419.19" x2="72.65" y2="425.91" stroke="#2a3f50" stroke-width="0.75"/>
<line x1="70.85" y1="419.19" x2="74.45" y2="419.19" stroke="#2a3f50" stroke-width="0.75"/>
<line x1="70.85" y1="425.91" x2="74.45" y2="425.91" stroke="#2a3f50" stroke-width="0.75"/>
<line x1="72.65" y1="397.24" x2="72.65" y2="402.84" stroke="#4a2a30" stroke-width="0.75"/>
<line x1="70.85" y1="397.24" x2="74.45" y2="397.24" stroke="#4a2a30" stroke-width="0.75"/>
<line x1="70.85" y1="402.84" x2="74.45" y2="402.84" stroke="#4a2a30" stroke-width="0.75"/>
<line x1="78.68" y1="419.75" x2="78.68" y2="426.47" stroke="#2a3f50" stroke-width="0.75"/>
<line x1="76.88" y1="419.75" x2="80.48" y2="419.75" stroke="#2a3f50" stroke-width="0.75"/>
<line x1="76.88" y1="426.47" x2="80.48" y2="426.47" stroke="#2a3f50" stroke-width="0.75"/>
<line x1="78.68" y1="402.50" x2="78.68" y2="409.22" stroke="#4a2a30" stroke-width="0.75"/>
<line x1="76.88" y1="402.50" x2="80.48" y2="402.50" stroke="#4a2a30" stroke-width="0.75"/>
<line x1="76.88" y1="409.22" x2="80.48" y2="409.22" stroke="#4a2a30" stroke-width="0.75"/>
<line x1="84.70" y1="424.12" x2="84.70" y2="430.84" stroke="#2a3f50" stroke-width="0.75"/>
<line x1="82.90" y1="424.12" x2="86.50" y2="424.12" stroke="#2a3f50" stroke-width="0.75"/>
<line x1="82.90" y1="430.84" x2="86.50" y2="430.84" stroke="#2a3f50" stroke-width="0.75"/>
<line x1="84.70" y1="409.78" x2="84.70" y2="415.38" stroke="#4a2a30" stroke-width="0.75"/>
<line x1="82.90" y1="409.78" x2="86.50" y2="409.78" stroke="#4a2a30" stroke-width="0.75"/>
<line x1="82.90" y1="415.38" x2="86.50" y2="415.38" stroke="#4a2a30" stroke-width="0.75"/>
<line x1="90.72" y1="427.48" x2="90.72" y2="434.20" stroke="#2a3f50" stroke-width="0.75"/>
<line x1="88.92" y1="427.48" x2="92.52" y2="427.48" stroke="#2a3f50" stroke-width="0.75"/>
<line x1="88.92" y1="434.20" x2="92.52" y2="434.20" stroke="#2a3f50" stroke-width="0.75"/>
<line x1="90.72" y1="412.58" x2="90.72" y2="418.18" stroke="#4a2a30" stroke-width="0.75"/>
<line x1="88.92" y1="412.58" x2="92.52" y2="412.58" stroke="#4a2a30" stroke-width="0.75"/>
<line x1="88.92" y1="418.18" x2="92.52" y2="418.18" stroke="#4a2a30" stroke-width="0.75"/>
<line x1="96.75" y1="428.93" x2="96.75" y2="434.53" stroke="#2a3f50" stroke-width="0.75"/>
<line x1="94.95" y1="428.93" x2="98.55" y2="428.93" stroke="#2a3f50" stroke-width="0.75"/>
<line x1="94.95" y1="434.53" x2="98.55" y2="434.53" stroke="#2a3f50" stroke-width="0.75"/>
<line x1="96.75" y1="417.62" x2="96.75" y2="423.22" stroke="#4a2a30" stroke-width="0.75"/>
<line x1="94.95" y1="417.62" x2="98.55" y2="417.62" stroke="#4a2a30" stroke-width="0.75"/>
<line x1="94.95" y1="423.22" x2="98.55" y2="423.22" stroke="#4a2a30" stroke-width="0.75"/>
<line x1="102.78" y1="432.40" x2="102.78" y2="438.00" stroke="#2a3f50" stroke-width="0.75"/>
<line x1="100.98" y1="432.40" x2="104.58" y2="432.40" stroke="#2a3f50" stroke-width="0.75"/>
<line x1="100.98" y1="438.00" x2="104.58" y2="438.00" stroke="#2a3f50" stroke-width="0.75"/>
<line x1="102.78" y1="421.54" x2="102.78" y2="427.14" stroke="#4a2a30" stroke-width="0.75"/>
<line x1="100.98" y1="421.54" x2="104.58" y2="421.54" stroke="#4a2a30" stroke-width="0.75"/>
<line x1="100.98" y1="427.14" x2="104.58" y2="427.14" stroke="#4a2a30" stroke-width="0.75"/>
<line x1="108.80" y1="432.40" x2="108.80" y2="438.00" stroke="#2a3f50" stroke-width="0.75"/>
<line x1="107.00" y1="432.40" x2="110.60" y2="432.40" stroke="#2a3f50" stroke-width="0.75"/>
<line x1="107.00" y1="438.00" x2="110.60" y2="438.00" stroke="#2a3f50" stroke-width="0.75"/>
<line x1="108.80" y1="419.30" x2="108.80" y2="426.02" stroke="#4a2a30" stroke-width="0.75"/>
<line x1="107.00" y1="419.30" x2="110.60" y2="419.30" stroke="#4a2a30" stroke-width="0.75"/>
<line x1="107.00" y1="426.02" x2="110.60" y2="426.02" stroke="#4a2a30" stroke-width="0.75"/>
<line x1="114.83" y1="436.66" x2="114.83" y2="442.26" stroke="#2a3f50" stroke-width="0.75"/>
<line x1="113.03" y1="436.66" x2="116.62" y2="436.66" stroke="#2a3f50" stroke-width="0.75"/>
<line x1="113.03" y1="442.26" x2="116.62" y2="442.26" stroke="#2a3f50" stroke-width="0.75"/>
<line x1="114.83" y1="424.12" x2="114.83" y2="429.72" stroke="#4a2a30" stroke-width="0.75"/>
<line x1="113.03" y1="424.12" x2="116.62" y2="424.12" stroke="#4a2a30" stroke-width="0.75"/>
<line x1="113.03" y1="429.72" x2="116.62" y2="429.72" stroke="#4a2a30" stroke-width="0.75"/>
<line x1="120.85" y1="435.65" x2="120.85" y2="441.25" stroke="#2a3f50" stroke-width="0.75"/>
<line x1="119.05" y1="435.65" x2="122.65" y2="435.65" stroke="#2a3f50" stroke-width="0.75"/>
<line x1="119.05" y1="441.25" x2="122.65" y2="441.25" stroke="#2a3f50" stroke-width="0.75"/>
<line x1="120.85" y1="425.12" x2="120.85" y2="431.84" stroke="#4a2a30" stroke-width="0.75"/>
<line x1="119.05" y1="425.12" x2="122.65" y2="425.12" stroke="#4a2a30" stroke-width="0.75"/>
<line x1="119.05" y1="431.84" x2="122.65" y2="431.84" stroke="#4a2a30" stroke-width="0.75"/>
<line x1="126.88" y1="441.14" x2="126.88" y2="445.62" stroke="#2a3f50" stroke-width="0.75"/>
<line x1="125.08" y1="441.14" x2="128.68" y2="441.14" stroke="#2a3f50" stroke-width="0.75"/>
<line x1="125.08" y1="445.62" x2="128.68" y2="445.62" stroke="#2a3f50" stroke-width="0.75"/>
<line x1="126.88" y1="434.31" x2="126.88" y2="439.91" stroke="#4a2a30" stroke-width="0.75"/>
<line x1="125.08" y1="434.31" x2="128.68" y2="434.31" stroke="#4a2a30" stroke-width="0.75"/>
<line x1="125.08" y1="439.91" x2="128.68" y2="439.91" stroke="#4a2a30" stroke-width="0.75"/>
<line x1="132.90" y1="442.37" x2="132.90" y2="446.85" stroke="#2a3f50" stroke-width="0.75"/>
<line x1="131.10" y1="442.37" x2="134.70" y2="442.37" stroke="#2a3f50" stroke-width="0.75"/>
<line x1="131.10" y1="446.85" x2="134.70" y2="446.85" stroke="#2a3f50" stroke-width="0.75"/>
<line x1="132.90" y1="434.76" x2="132.90" y2="440.36" stroke="#4a2a30" stroke-width="0.75"/>
<line x1="131.10" y1="434.76" x2="134.70" y2="434.76" stroke="#4a2a30" stroke-width="0.75"/>
<line x1="131.10" y1="440.36" x2="134.70" y2="440.36" stroke="#4a2a30" stroke-width="0.75"/>
<line x1="138.93" y1="443.49" x2="138.93" y2="447.97" stroke="#2a3f50" stroke-width="0.75"/>
<line x1="137.12" y1="443.49" x2="140.73" y2="443.49" stroke="#2a3f50" stroke-width="0.75"/>
<line x1="137.12" y1="447.97" x2="140.73" y2="447.97" stroke="#2a3f50" stroke-width="0.75"/>
<line x1="138.93" y1="436.66" x2="138.93" y2="442.26" stroke="#4a2a30" stroke-width="0.75"/>
<line x1="137.12" y1="436.66" x2="140.73" y2="436.66" stroke="#4a2a30" stroke-width="0.75"/>
<line x1="137.12" y1="442.26" x2="140.73" y2="442.26" stroke="#4a2a30" stroke-width="0.75"/>
<line x1="144.95" y1="445.84" x2="144.95" y2="450.32" stroke="#2a3f50" stroke-width="0.75"/>
<line x1="143.15" y1="445.84" x2="146.75" y2="445.84" stroke="#2a3f50" stroke-width="0.75"/>
<line x1="143.15" y1="450.32" x2="146.75" y2="450.32" stroke="#2a3f50" stroke-width="0.75"/>
<line x1="144.95" y1="438.56" x2="144.95" y2="443.04" stroke="#4a2a30" stroke-width="0.75"/>
<line x1="143.15" y1="438.56" x2="146.75" y2="438.56" stroke="#4a2a30" stroke-width="0.75"/>
<line x1="143.15" y1="443.04" x2="146.75" y2="443.04" stroke="#4a2a30" stroke-width="0.75"/>
<line x1="150.98" y1="448.31" x2="150.98" y2="452.79" stroke="#2a3f50" stroke-width="0.75"/>
<line x1="149.18" y1="448.31" x2="152.78" y2="448.31" stroke="#2a3f50" stroke-width="0.75"/>
<line x1="149.18" y1="452.79" x2="152.78" y2="452.79" stroke="#2a3f50" stroke-width="0.75"/>
<line x1="150.98" y1="439.24" x2="150.98" y2="443.72" stroke="#4a2a30" stroke-width="0.75"/>
<line x1="149.18" y1="439.24" x2="152.78" y2="439.24" stroke="#4a2a30" stroke-width="0.75"/>
<line x1="149.18" y1="443.72" x2="152.78" y2="443.72" stroke="#4a2a30" stroke-width="0.75"/>
<line x1="157.00" y1="448.98" x2="157.00" y2="453.46" stroke="#2a3f50" stroke-width="0.75"/>
<line x1="155.20" y1="448.98" x2="158.80" y2="448.98" stroke="#2a3f50" stroke-width="0.75"/>
<line x1="155.20" y1="453.46" x2="158.80" y2="453.46" stroke="#2a3f50" stroke-width="0.75"/>
<line x1="157.00" y1="441.14" x2="157.00" y2="445.62" stroke="#4a2a30" stroke-width="0.75"/>
<line x1="155.20" y1="441.14" x2="158.80" y2="441.14" stroke="#4a2a30" stroke-width="0.75"/>
<line x1="155.20" y1="445.62" x2="158.80" y2="445.62" stroke="#4a2a30" stroke-width="0.75"/>
<line x1="163.03" y1="445.84" x2="163.03" y2="450.32" stroke="#2a3f50" stroke-width="0.75"/>
<line x1="161.22" y1="445.84" x2="164.83" y2="445.84" stroke="#2a3f50" stroke-width="0.75"/>
<line x1="161.22" y1="450.32" x2="164.83" y2="450.32" stroke="#2a3f50" stroke-width="0.75"/>
<line x1="163.03" y1="439.91" x2="163.03" y2="445.51" stroke="#4a2a30" stroke-width="0.75"/>
<line x1="161.22" y1="439.91" x2="164.83" y2="439.91" stroke="#4a2a30" stroke-width="0.75"/>
<line x1="161.22" y1="445.51" x2="164.83" y2="445.51" stroke="#4a2a30" stroke-width="0.75"/>
<line x1="169.05" y1="449.09" x2="169.05" y2="453.57" stroke="#2a3f50" stroke-width="0.75"/>
<line x1="167.25" y1="449.09" x2="170.85" y2="449.09" stroke="#2a3f50" stroke-width="0.75"/>
<line x1="167.25" y1="453.57" x2="170.85" y2="453.57" stroke="#2a3f50" stroke-width="0.75"/>
<line x1="169.05" y1="442.93" x2="169.05" y2="447.41" stroke="#4a2a30" stroke-width="0.75"/>
<line x1="167.25" y1="442.93" x2="170.85" y2="442.93" stroke="#4a2a30" stroke-width="0.75"/>
<line x1="167.25" y1="447.41" x2="170.85" y2="447.41" stroke="#4a2a30" stroke-width="0.75"/>
<line x1="175.08" y1="452.23" x2="175.08" y2="456.71" stroke="#2a3f50" stroke-width="0.75"/>
<line x1="173.28" y1="452.23" x2="176.88" y2="452.23" stroke="#2a3f50" stroke-width="0.75"/>
<line x1="173.28" y1="456.71" x2="176.88" y2="456.71" stroke="#2a3f50" stroke-width="0.75"/>
<line x1="175.08" y1="447.19" x2="175.08" y2="451.67" stroke="#4a2a30" stroke-width="0.75"/>
<line x1="173.28" y1="447.19" x2="176.88" y2="447.19" stroke="#4a2a30" stroke-width="0.75"/>
<line x1="173.28" y1="451.67" x2="176.88" y2="451.67" stroke="#4a2a30" stroke-width="0.75"/>
<line x1="181.10" y1="453.91" x2="181.10" y2="458.39" stroke="#2a3f50" stroke-width="0.75"/>
<line x1="179.30" y1="453.91" x2="182.90" y2="453.91" stroke="#2a3f50" stroke-width="0.75"/>
<line x1="179.30" y1="458.39" x2="182.90" y2="458.39" stroke="#2a3f50" stroke-width="0.75"/>
<line x1="181.10" y1="447.19" x2="181.10" y2="451.67" stroke="#4a2a30" stroke-width="0.75"/>
<line x1="179.30" y1="447.19" x2="182.90" y2="447.19" stroke="#4a2a30" stroke-width="0.75"/>
<line x1="179.30" y1="451.67" x2="182.90" y2="451.67" stroke="#4a2a30" stroke-width="0.75"/>
<line x1="187.12" y1="455.03" x2="187.12" y2="459.51" stroke="#2a3f50" stroke-width="0.75"/>
<line x1="185.32" y1="455.03" x2="188.93" y2="455.03" stroke="#2a3f50" stroke-width="0.75"/>
<line x1="185.32" y1="459.51" x2="188.93" y2="459.51" stroke="#2a3f50" stroke-width="0.75"/>
<line x1="187.12" y1="451.33" x2="187.12" y2="455.81" stroke="#4a2a30" stroke-width="0.75"/>
<line x1="185.32" y1="451.33" x2="188.93" y2="451.33" stroke="#4a2a30" stroke-width="0.75"/>
<line x1="185.32" y1="455.81" x2="188.93" y2="455.81" stroke="#4a2a30" stroke-width="0.75"/>
<line x1="193.15" y1="456.60" x2="193.15" y2="461.08" stroke="#2a3f50" stroke-width="0.75"/>
<line x1="191.35" y1="456.60" x2="194.95" y2="456.60" stroke="#2a3f50" stroke-width="0.75"/>
<line x1="191.35" y1="461.08" x2="194.95" y2="461.08" stroke="#2a3f50" stroke-width="0.75"/>
<line x1="193.15" y1="449.65" x2="193.15" y2="454.13" stroke="#4a2a30" stroke-width="0.75"/>
<line x1="191.35" y1="449.65" x2="194.95" y2="449.65" stroke="#4a2a30" stroke-width="0.75"/>
<line x1="191.35" y1="454.13" x2="194.95" y2="454.13" stroke="#4a2a30" stroke-width="0.75"/>
<line x1="199.18" y1="456.04" x2="199.18" y2="460.52" stroke="#2a3f50" stroke-width="0.75"/>
<line x1="197.38" y1="456.04" x2="200.98" y2="456.04" stroke="#2a3f50" stroke-width="0.75"/>
<line x1="197.38" y1="460.52" x2="200.98" y2="460.52" stroke="#2a3f50" stroke-width="0.75"/>
<line x1="199.18" y1="451.56" x2="199.18" y2="456.04" stroke="#4a2a30" stroke-width="0.75"/>
<line x1="197.38" y1="451.56" x2="200.98" y2="451.56" stroke="#4a2a30" stroke-width="0.75"/>
<line x1="197.38" y1="456.04" x2="200.98" y2="456.04" stroke="#4a2a30" stroke-width="0.75"/>
<line x1="205.20" y1="455.48" x2="205.20" y2="459.96" stroke="#2a3f50" stroke-width="0.75"/>
<line x1="203.40" y1="455.48" x2="207.00" y2="455.48" stroke="#2a3f50" stroke-width="0.75"/>
<line x1="203.40" y1="459.96" x2="207.00" y2="459.96" stroke="#2a3f50" stroke-width="0.75"/>
<line x1="205.20" y1="454.92" x2="205.20" y2="459.40" stroke="#4a2a30" stroke-width="0.75"/>
<line x1="203.40" y1="454.92" x2="207.00" y2="454.92" stroke="#4a2a30" stroke-width="0.75"/>
<line x1="203.40" y1="459.40" x2="207.00" y2="459.40" stroke="#4a2a30" stroke-width="0.75"/>
<polyline points="36.50,466.90 42.52,410.90 48.55,393.65 54.58,401.04 60.60,403.84 66.62,417.96 72.65,422.55 78.68,423.11 84.70,427.48 90.72,430.84 96.75,431.73 102.78,435.20 108.80,435.20 114.83,439.46 120.85,438.45 126.88,443.38 132.90,444.61 138.93,445.73 144.95,448.08 150.98,450.55 157.00,451.22 163.03,448.08 169.05,451.33 175.08,454.47 181.10,456.15 187.12,457.27 193.15,458.84 199.18,458.28 205.20,457.72" fill="none" stroke="#2a5878" stroke-width="1.1" stroke-linejoin="round"/>
<circle cx="42.52" cy="410.90" r="2.0" fill="#1f4a6b" stroke="#12293c" stroke-width="0.8"/>
<circle cx="48.55" cy="393.65" r="2.0" fill="#1f4a6b" stroke="#12293c" stroke-width="0.8"/>
<circle cx="54.58" cy="401.04" r="2.0" fill="#1f4a6b" stroke="#12293c" stroke-width="0.8"/>
<circle cx="60.60" cy="403.84" r="2.0" fill="#1f4a6b" stroke="#12293c" stroke-width="0.8"/>
<circle cx="66.62" cy="417.96" r="2.0" fill="#1f4a6b" stroke="#12293c" stroke-width="0.8"/>
<circle cx="72.65" cy="422.55" r="2.0" fill="#1f4a6b" stroke="#12293c" stroke-width="0.8"/>
<circle cx="78.68" cy="423.11" r="2.0" fill="#1f4a6b" stroke="#12293c" stroke-width="0.8"/>
<circle cx="84.70" cy="427.48" r="2.0" fill="#1f4a6b" stroke="#12293c" stroke-width="0.8"/>
<circle cx="90.72" cy="430.84" r="2.0" fill="#1f4a6b" stroke="#12293c" stroke-width="0.8"/>
<circle cx="96.75" cy="431.73" r="2.0" fill="#1f4a6b" stroke="#12293c" stroke-width="0.8"/>
<circle cx="102.78" cy="435.20" r="2.0" fill="#1f4a6b" stroke="#12293c" stroke-width="0.8"/>
<circle cx="108.80" cy="435.20" r="2.0" fill="#1f4a6b" stroke="#12293c" stroke-width="0.8"/>
<circle cx="114.83" cy="439.46" r="2.0" fill="#1f4a6b" stroke="#12293c" stroke-width="0.8"/>
<circle cx="120.85" cy="438.45" r="2.0" fill="#1f4a6b" stroke="#12293c" stroke-width="0.8"/>
<circle cx="126.88" cy="443.38" r="2.0" fill="#1f4a6b" stroke="#12293c" stroke-width="0.8"/>
<circle cx="132.90" cy="444.61" r="2.0" fill="#1f4a6b" stroke="#12293c" stroke-width="0.8"/>
<circle cx="138.93" cy="445.73" r="2.0" fill="#1f4a6b" stroke="#12293c" stroke-width="0.8"/>
<circle cx="144.95" cy="448.08" r="2.0" fill="#1f4a6b" stroke="#12293c" stroke-width="0.8"/>
<circle cx="150.98" cy="450.55" r="2.0" fill="#1f4a6b" stroke="#12293c" stroke-width="0.8"/>
<circle cx="157.00" cy="451.22" r="2.0" fill="#1f4a6b" stroke="#12293c" stroke-width="0.8"/>
<circle cx="163.03" cy="448.08" r="2.0" fill="#1f4a6b" stroke="#12293c" stroke-width="0.8"/>
<circle cx="169.05" cy="451.33" r="2.0" fill="#1f4a6b" stroke="#12293c" stroke-width="0.8"/>
<circle cx="175.08" cy="454.47" r="2.0" fill="#1f4a6b" stroke="#12293c" stroke-width="0.8"/>
<circle cx="181.10" cy="456.15" r="2.0" fill="#1f4a6b" stroke="#12293c" stroke-width="0.8"/>
<circle cx="187.12" cy="457.27" r="2.0" fill="#1f4a6b" stroke="#12293c" stroke-width="0.8"/>
<circle cx="193.15" cy="458.84" r="2.0" fill="#1f4a6b" stroke="#12293c" stroke-width="0.8"/>
<circle cx="199.18" cy="458.28" r="2.0" fill="#1f4a6b" stroke="#12293c" stroke-width="0.8"/>
<circle cx="205.20" cy="457.72" r="2.0" fill="#1f4a6b" stroke="#12293c" stroke-width="0.8"/>
<polyline points="36.50,466.90 42.52,408.66 48.55,391.30 54.58,395.22 60.60,398.02 66.62,399.14 72.65,400.04 78.68,405.86 84.70,412.58 90.72,415.38 96.75,420.42 102.78,424.34 108.80,422.66 114.83,426.92 120.85,428.48 126.88,437.11 132.90,437.56 138.93,439.46 144.95,440.80 150.98,441.48 157.00,443.38 163.03,442.71 169.05,445.17 175.08,449.43 181.10,449.43 187.12,453.57 193.15,451.89 199.18,453.80 205.20,457.16" fill="none" stroke="#b5203f" stroke-width="1.1" stroke-linejoin="round"/>
<circle cx="42.52" cy="408.66" r="2.0" fill="#ad1739" stroke="#5a0a1e" stroke-width="0.8"/>
<circle cx="48.55" cy="391.30" r="2.0" fill="#ad1739" stroke="#5a0a1e" stroke-width="0.8"/>
<circle cx="54.58" cy="395.22" r="2.0" fill="#ad1739" stroke="#5a0a1e" stroke-width="0.8"/>
<circle cx="60.60" cy="398.02" r="2.0" fill="#ad1739" stroke="#5a0a1e" stroke-width="0.8"/>
<circle cx="66.62" cy="399.14" r="2.0" fill="#ad1739" stroke="#5a0a1e" stroke-width="0.8"/>
<circle cx="72.65" cy="400.04" r="2.0" fill="#ad1739" stroke="#5a0a1e" stroke-width="0.8"/>
<circle cx="78.68" cy="405.86" r="2.0" fill="#ad1739" stroke="#5a0a1e" stroke-width="0.8"/>
<circle cx="84.70" cy="412.58" r="2.0" fill="#ad1739" stroke="#5a0a1e" stroke-width="0.8"/>
<circle cx="90.72" cy="415.38" r="2.0" fill="#ad1739" stroke="#5a0a1e" stroke-width="0.8"/>
<circle cx="96.75" cy="420.42" r="2.0" fill="#ad1739" stroke="#5a0a1e" stroke-width="0.8"/>
<circle cx="102.78" cy="424.34" r="2.0" fill="#ad1739" stroke="#5a0a1e" stroke-width="0.8"/>
<circle cx="108.80" cy="422.66" r="2.0" fill="#ad1739" stroke="#5a0a1e" stroke-width="0.8"/>
<circle cx="114.83" cy="426.92" r="2.0" fill="#ad1739" stroke="#5a0a1e" stroke-width="0.8"/>
<circle cx="120.85" cy="428.48" r="2.0" fill="#ad1739" stroke="#5a0a1e" stroke-width="0.8"/>
<circle cx="126.88" cy="437.11" r="2.0" fill="#ad1739" stroke="#5a0a1e" stroke-width="0.8"/>
<circle cx="132.90" cy="437.56" r="2.0" fill="#ad1739" stroke="#5a0a1e" stroke-width="0.8"/>
<circle cx="138.93" cy="439.46" r="2.0" fill="#ad1739" stroke="#5a0a1e" stroke-width="0.8"/>
<circle cx="144.95" cy="440.80" r="2.0" fill="#ad1739" stroke="#5a0a1e" stroke-width="0.8"/>
<circle cx="150.98" cy="441.48" r="2.0" fill="#ad1739" stroke="#5a0a1e" stroke-width="0.8"/>
<circle cx="157.00" cy="443.38" r="2.0" fill="#ad1739" stroke="#5a0a1e" stroke-width="0.8"/>
<circle cx="163.03" cy="442.71" r="2.0" fill="#ad1739" stroke="#5a0a1e" stroke-width="0.8"/>
<circle cx="169.05" cy="445.17" r="2.0" fill="#ad1739" stroke="#5a0a1e" stroke-width="0.8"/>
<circle cx="175.08" cy="449.43" r="2.0" fill="#ad1739" stroke="#5a0a1e" stroke-width="0.8"/>
<circle cx="181.10" cy="449.43" r="2.0" fill="#ad1739" stroke="#5a0a1e" stroke-width="0.8"/>
<circle cx="187.12" cy="453.57" r="2.0" fill="#ad1739" stroke="#5a0a1e" stroke-width="0.8"/>
<circle cx="193.15" cy="451.89" r="2.0" fill="#ad1739" stroke="#5a0a1e" stroke-width="0.8"/>
<circle cx="199.18" cy="453.80" r="2.0" fill="#ad1739" stroke="#5a0a1e" stroke-width="0.8"/>
<circle cx="205.20" cy="457.16" r="2.0" fill="#ad1739" stroke="#5a0a1e" stroke-width="0.8"/>
<path d="M34.10 466.90 L36.50 464.50 L38.90 466.90 L36.50 469.30 Z" fill="#a3173a" stroke="#6a0d25" stroke-width="0.5"/>
<text x="42.30" y="379.00" font-size="6.6" fill="#c8203f" stroke="#c8203f" stroke-width="0.145" font-weight="bold" font-style="normal" text-anchor="middle">†</text>
<text x="49.00" y="379.00" font-size="6.6" fill="#c8203f" stroke="#c8203f" stroke-width="0.145" font-weight="bold" font-style="normal" text-anchor="middle">†</text>
<text x="55.30" y="379.00" font-size="6.6" fill="#c8203f" stroke="#c8203f" stroke-width="0.145" font-weight="bold" font-style="normal" text-anchor="middle">†</text>
<text x="62.00" y="379.00" font-size="6.6" fill="#c8203f" stroke="#c8203f" stroke-width="0.145" font-weight="bold" font-style="normal" text-anchor="middle">†</text>
<text x="68.70" y="379.00" font-size="6.6" fill="#c8203f" stroke="#c8203f" stroke-width="0.145" font-weight="bold" font-style="normal" text-anchor="middle">†</text>
<text x="75.40" y="379.00" font-size="6.6" fill="#c8203f" stroke="#c8203f" stroke-width="0.145" font-weight="bold" font-style="normal" text-anchor="middle">†</text>
<text x="42.30" y="368.60" font-size="6.6" fill="#2a6a98" stroke="#2a6a98" stroke-width="0.145" font-weight="bold" font-style="normal" text-anchor="middle">†</text>
<text x="49.00" y="368.60" font-size="6.6" fill="#2a6a98" stroke="#2a6a98" stroke-width="0.145" font-weight="bold" font-style="normal" text-anchor="middle">†</text>
<text x="55.30" y="368.60" font-size="6.6" fill="#c8203f" stroke="#c8203f" stroke-width="0.145" font-weight="bold" font-style="normal" text-anchor="middle">†</text>
<text x="68.70" y="368.60" font-size="6.6" fill="#c8203f" stroke="#c8203f" stroke-width="0.145" font-weight="bold" font-style="normal" text-anchor="middle">†</text>
<text x="49.00" y="358.80" font-size="6.6" fill="#2a6a98" stroke="#2a6a98" stroke-width="0.145" font-weight="bold" font-style="normal" text-anchor="middle">†</text>
<line x1="154.40" y1="355.20" x2="168.80" y2="355.20" stroke="#b5203f" stroke-width="1.1"/>
<circle cx="161.50" cy="355.20" r="2.0" fill="#ad1739" stroke="#5a0a1e" stroke-width="0.8"/>
<text x="173.10" y="357.60" font-size="6.3" fill="#333" stroke="#333" stroke-width="0.139" font-weight="normal" font-style="normal" textLength="21.60" lengthAdjust="spacingAndGlyphs"><tspan font-style="italic">F8</tspan><tspan font-size="3.91" dy="-3.15" font-style="italic">em1–/–</tspan><tspan dy="3.15" font-size="6.3"></tspan></text>
<line x1="154.40" y1="365.40" x2="168.80" y2="365.40" stroke="#2a5878" stroke-width="1.1"/>
<circle cx="161.50" cy="365.40" r="2.0" fill="#1f4a6b" stroke="#12293c" stroke-width="0.8"/>
<text x="173.10" y="367.80" font-size="6.3" fill="#333" stroke="#333" stroke-width="0.139" font-weight="normal" font-style="normal" textLength="44.30" lengthAdjust="spacingAndGlyphs"><tspan font-style="italic">F8</tspan><tspan font-size="3.91" dy="-3.15" font-style="italic">em1–/–</tspan><tspan dy="3.15" font-size="6.3" font-style="italic">/Il1rl1</tspan><tspan font-size="3.91" dy="-3.15" font-style="italic">–/–</tspan></text>
<path d="M211.5 451.6 H217.6 V463 H211.5" fill="none" stroke="#333" stroke-width="0.9"/>
<text x="214.60" y="452.00" font-size="6.6" fill="#222" stroke="#222" stroke-width="0.145" font-weight="bold" font-style="normal" text-anchor="middle">**</text>
</g>
<g id="panelG">
<text x="232.6" y="348.2" font-size="12.2" font-weight="bold" fill="#0d0d0d">G</text>
<rect x="389.10" y="414.61" width="26.60" height="52.09" fill="#e59a96" stroke="none" stroke-width="1"/>
<rect x="431.20" y="446.89" width="26.40" height="19.81" fill="#8ca0c8" stroke="none" stroke-width="1"/>
<line x1="374.30" y1="352.60" x2="374.30" y2="467.60" stroke="#242424" stroke-width="1.25"/>
<line x1="371.30" y1="467.10" x2="374.30" y2="467.10" stroke="#242424" stroke-width="0.9"/>
<text x="365.35" y="469.55" font-size="7.3" fill="#444444" stroke="#444444" stroke-width="0.161" font-weight="normal" font-style="normal" textLength="3.25" lengthAdjust="spacingAndGlyphs">0</text>
<line x1="371.30" y1="439.03" x2="374.30" y2="439.03" stroke="#242424" stroke-width="0.9"/>
<text x="365.35" y="441.48" font-size="7.3" fill="#444444" stroke="#444444" stroke-width="0.161" font-weight="normal" font-style="normal" textLength="3.25" lengthAdjust="spacingAndGlyphs">1</text>
<line x1="371.30" y1="410.96" x2="374.30" y2="410.96" stroke="#242424" stroke-width="0.9"/>
<text x="365.35" y="413.41" font-size="7.3" fill="#444444" stroke="#444444" stroke-width="0.161" font-weight="normal" font-style="normal" textLength="3.25" lengthAdjust="spacingAndGlyphs">2</text>
<line x1="371.30" y1="382.89" x2="374.30" y2="382.89" stroke="#242424" stroke-width="0.9"/>
<text x="365.35" y="385.34" font-size="7.3" fill="#444444" stroke="#444444" stroke-width="0.161" font-weight="normal" font-style="normal" textLength="3.25" lengthAdjust="spacingAndGlyphs">3</text>
<line x1="371.30" y1="354.82" x2="374.30" y2="354.82" stroke="#242424" stroke-width="0.9"/>
<text x="365.35" y="357.27" font-size="7.3" fill="#444444" stroke="#444444" stroke-width="0.161" font-weight="normal" font-style="normal" textLength="3.25" lengthAdjust="spacingAndGlyphs">4</text>
<line x1="373.80" y1="467.10" x2="472.40" y2="467.10" stroke="#242424" stroke-width="1.25"/>
<text x="-47.80" y="0.00" font-size="8.0" fill="#4c4c4c" stroke="#4c4c4c" stroke-width="0.176" font-weight="normal" font-style="normal" textLength="95.60" lengthAdjust="spacingAndGlyphs" transform="translate(359.30 409.60) rotate(-90)">Haemosiderin deposition score</text>
<line x1="402.30" y1="467.10" x2="402.30" y2="469.50" stroke="#242424" stroke-width="0.9"/>
<line x1="402.30" y1="404.50" x2="402.30" y2="422.47" stroke="#1e1e1e" stroke-width="1.1"/>
<line x1="395.30" y1="404.50" x2="409.30" y2="404.50" stroke="#1e1e1e" stroke-width="1.1"/>
<line x1="395.30" y1="422.47" x2="409.30" y2="422.47" stroke="#1e1e1e" stroke-width="1.1"/>
<circle cx="394.60" cy="382.89" r="2.15" fill="#9c1738" stroke="#6a0d25" stroke-width="0.5"/>
<circle cx="402.30" cy="382.89" r="2.15" fill="#9c1738" stroke="#6a0d25" stroke-width="0.5"/>
<circle cx="410.20" cy="382.89" r="2.15" fill="#9c1738" stroke="#6a0d25" stroke-width="0.5"/>
<circle cx="390.30" cy="410.96" r="2.15" fill="#9c1738" stroke="#6a0d25" stroke-width="0.5"/>
<circle cx="398.20" cy="410.96" r="2.15" fill="#9c1738" stroke="#6a0d25" stroke-width="0.5"/>
<circle cx="406.20" cy="410.96" r="2.15" fill="#9c1738" stroke="#6a0d25" stroke-width="0.5"/>
<circle cx="414.00" cy="410.96" r="2.15" fill="#9c1738" stroke="#6a0d25" stroke-width="0.5"/>
<circle cx="398.20" cy="439.03" r="2.15" fill="#9c1738" stroke="#6a0d25" stroke-width="0.5"/>
<circle cx="406.20" cy="439.03" r="2.15" fill="#9c1738" stroke="#6a0d25" stroke-width="0.5"/>
<circle cx="402.30" cy="467.10" r="2.15" fill="#9c1738" stroke="#6a0d25" stroke-width="0.5"/>
<text x="391.60" y="478.80" font-size="6.0" fill="#3c3c3c" stroke="#3c3c3c" stroke-width="0.132" font-weight="normal" font-style="normal" textLength="21.40" lengthAdjust="spacingAndGlyphs"><tspan font-style="italic">F8</tspan><tspan font-size="3.72" dy="-3.0" font-style="italic">em1–/–</tspan><tspan dy="3.0" font-size="6.0"></tspan></text>
<line x1="444.30" y1="467.10" x2="444.30" y2="469.50" stroke="#242424" stroke-width="0.9"/>
<line x1="444.30" y1="438.47" x2="444.30" y2="454.47" stroke="#1e1e1e" stroke-width="1.1"/>
<line x1="437.30" y1="438.47" x2="451.30" y2="438.47" stroke="#1e1e1e" stroke-width="1.1"/>
<line x1="437.30" y1="454.47" x2="451.30" y2="454.47" stroke="#1e1e1e" stroke-width="1.1"/>
<circle cx="440.30" cy="410.96" r="2.15" fill="#1f4a6b" stroke="#163850" stroke-width="0.5"/>
<circle cx="448.30" cy="410.96" r="2.15" fill="#1f4a6b" stroke="#163850" stroke-width="0.5"/>
<circle cx="440.30" cy="439.03" r="2.15" fill="#1f4a6b" stroke="#163850" stroke-width="0.5"/>
<circle cx="448.30" cy="439.03" r="2.15" fill="#1f4a6b" stroke="#163850" stroke-width="0.5"/>
<circle cx="432.20" cy="467.10" r="2.15" fill="#1f4a6b" stroke="#163850" stroke-width="0.5"/>
<circle cx="440.30" cy="467.10" r="2.15" fill="#1f4a6b" stroke="#163850" stroke-width="0.5"/>
<circle cx="448.30" cy="467.10" r="2.15" fill="#1f4a6b" stroke="#163850" stroke-width="0.5"/>
<circle cx="456.10" cy="467.10" r="2.15" fill="#1f4a6b" stroke="#163850" stroke-width="0.5"/>
<text x="422.00" y="478.80" font-size="6.0" fill="#3c3c3c" stroke="#3c3c3c" stroke-width="0.132" font-weight="normal" font-style="normal" textLength="44.60" lengthAdjust="spacingAndGlyphs"><tspan font-style="italic">F8</tspan><tspan font-size="3.72" dy="-3.0" font-style="italic">em1–/–</tspan><tspan dy="3.0" font-size="6.0" font-style="italic">/Il1rl1</tspan><tspan font-size="3.72" dy="-3.0" font-style="italic">–/–</tspan></text>
<line x1="402.40" y1="366.00" x2="444.30" y2="366.00" stroke="#555" stroke-width="1.0"/>
<text x="423.35" y="366.20" font-size="6.4" fill="#3a3a3a" stroke="#3a3a3a" stroke-width="0.141" font-weight="normal" font-style="normal" text-anchor="middle">*</text>
</g>
<g id="panelH">
<text x="6.7" y="520.0" font-size="12.2" font-weight="bold" fill="#0d0d0d">H</text>
<rect x="165.20" y="582.08" width="26.60" height="55.92" fill="#e59a96" stroke="none" stroke-width="1"/>
<rect x="207.50" y="610.01" width="26.50" height="27.99" fill="#8ca0c8" stroke="none" stroke-width="1"/>
<line x1="150.40" y1="523.70" x2="150.40" y2="638.90" stroke="#242424" stroke-width="1.25"/>
<line x1="147.40" y1="638.40" x2="150.40" y2="638.40" stroke="#242424" stroke-width="0.9"/>
<text x="140.95" y="640.85" font-size="7.3" fill="#444444" stroke="#444444" stroke-width="0.161" font-weight="normal" font-style="normal" textLength="3.25" lengthAdjust="spacingAndGlyphs">0</text>
<line x1="147.40" y1="615.96" x2="150.40" y2="615.96" stroke="#242424" stroke-width="0.9"/>
<text x="140.95" y="618.41" font-size="7.3" fill="#444444" stroke="#444444" stroke-width="0.161" font-weight="normal" font-style="normal" textLength="3.25" lengthAdjust="spacingAndGlyphs">2</text>
<line x1="147.40" y1="593.52" x2="150.40" y2="593.52" stroke="#242424" stroke-width="0.9"/>
<text x="140.95" y="595.97" font-size="7.3" fill="#444444" stroke="#444444" stroke-width="0.161" font-weight="normal" font-style="normal" textLength="3.25" lengthAdjust="spacingAndGlyphs">4</text>
<line x1="147.40" y1="571.08" x2="150.40" y2="571.08" stroke="#242424" stroke-width="0.9"/>
<text x="140.95" y="573.53" font-size="7.3" fill="#444444" stroke="#444444" stroke-width="0.161" font-weight="normal" font-style="normal" textLength="3.25" lengthAdjust="spacingAndGlyphs">6</text>
<line x1="147.40" y1="548.64" x2="150.40" y2="548.64" stroke="#242424" stroke-width="0.9"/>
<text x="140.95" y="551.09" font-size="7.3" fill="#444444" stroke="#444444" stroke-width="0.161" font-weight="normal" font-style="normal" textLength="3.25" lengthAdjust="spacingAndGlyphs">8</text>
<line x1="147.40" y1="526.20" x2="150.40" y2="526.20" stroke="#242424" stroke-width="0.9"/>
<text x="137.70" y="528.65" font-size="7.3" fill="#444444" stroke="#444444" stroke-width="0.161" font-weight="normal" font-style="normal" textLength="6.50" lengthAdjust="spacingAndGlyphs">10</text>
<line x1="149.90" y1="638.40" x2="248.50" y2="638.40" stroke="#242424" stroke-width="1.25"/>
<text x="-25.20" y="0.00" font-size="8.0" fill="#4c4c4c" stroke="#4c4c4c" stroke-width="0.176" font-weight="normal" font-style="normal" textLength="50.40" lengthAdjust="spacingAndGlyphs" transform="translate(131.60 581.00) rotate(-90)">Synovitis score</text>
<line x1="178.70" y1="638.40" x2="178.70" y2="640.80" stroke="#242424" stroke-width="0.9"/>
<line x1="178.70" y1="576.35" x2="178.70" y2="586.34" stroke="#1e1e1e" stroke-width="1.1"/>
<line x1="172.00" y1="576.35" x2="185.40" y2="576.35" stroke="#1e1e1e" stroke-width="1.1"/>
<line x1="172.00" y1="586.34" x2="185.40" y2="586.34" stroke="#1e1e1e" stroke-width="1.1"/>
<circle cx="166.70" cy="571.08" r="2.15" fill="#9c1738" stroke="#6a0d25" stroke-width="0.5"/>
<circle cx="171.50" cy="571.08" r="2.15" fill="#9c1738" stroke="#6a0d25" stroke-width="0.5"/>
<circle cx="176.20" cy="571.08" r="2.15" fill="#9c1738" stroke="#6a0d25" stroke-width="0.5"/>
<circle cx="181.00" cy="571.08" r="2.15" fill="#9c1738" stroke="#6a0d25" stroke-width="0.5"/>
<circle cx="185.80" cy="571.08" r="2.15" fill="#9c1738" stroke="#6a0d25" stroke-width="0.5"/>
<circle cx="190.40" cy="571.08" r="2.15" fill="#9c1738" stroke="#6a0d25" stroke-width="0.5"/>
<circle cx="176.20" cy="582.30" r="2.15" fill="#9c1738" stroke="#6a0d25" stroke-width="0.5"/>
<circle cx="181.00" cy="582.30" r="2.15" fill="#9c1738" stroke="#6a0d25" stroke-width="0.5"/>
<circle cx="178.70" cy="604.74" r="2.15" fill="#9c1738" stroke="#6a0d25" stroke-width="0.5"/>
<circle cx="178.70" cy="615.96" r="2.15" fill="#9c1738" stroke="#6a0d25" stroke-width="0.5"/>
<text x="168.00" y="650.60" font-size="6.0" fill="#3c3c3c" stroke="#3c3c3c" stroke-width="0.132" font-weight="normal" font-style="normal" textLength="21.40" lengthAdjust="spacingAndGlyphs"><tspan font-style="italic">F8</tspan><tspan font-size="3.72" dy="-3.0" font-style="italic">em1–/–</tspan><tspan dy="3.0" font-size="6.0"></tspan></text>
<line x1="220.60" y1="638.40" x2="220.60" y2="640.80" stroke="#242424" stroke-width="0.9"/>
<line x1="220.60" y1="600.03" x2="220.60" y2="618.20" stroke="#1e1e1e" stroke-width="1.1"/>
<line x1="213.90" y1="600.03" x2="227.30" y2="600.03" stroke="#1e1e1e" stroke-width="1.1"/>
<line x1="213.90" y1="618.20" x2="227.30" y2="618.20" stroke="#1e1e1e" stroke-width="1.1"/>
<circle cx="220.60" cy="571.08" r="2.15" fill="#1f4a6b" stroke="#163850" stroke-width="0.5"/>
<circle cx="220.60" cy="582.30" r="2.15" fill="#1f4a6b" stroke="#163850" stroke-width="0.5"/>
<circle cx="220.60" cy="593.52" r="2.15" fill="#1f4a6b" stroke="#163850" stroke-width="0.5"/>
<circle cx="220.60" cy="604.74" r="2.15" fill="#1f4a6b" stroke="#163850" stroke-width="0.5"/>
<circle cx="220.60" cy="615.96" r="2.15" fill="#1f4a6b" stroke="#163850" stroke-width="0.5"/>
<circle cx="220.60" cy="627.18" r="2.15" fill="#1f4a6b" stroke="#163850" stroke-width="0.5"/>
<circle cx="216.20" cy="638.40" r="2.15" fill="#1f4a6b" stroke="#163850" stroke-width="0.5"/>
<circle cx="224.80" cy="638.40" r="2.15" fill="#1f4a6b" stroke="#163850" stroke-width="0.5"/>
<text x="198.30" y="650.60" font-size="6.0" fill="#3c3c3c" stroke="#3c3c3c" stroke-width="0.132" font-weight="normal" font-style="normal" textLength="44.60" lengthAdjust="spacingAndGlyphs"><tspan font-style="italic">F8</tspan><tspan font-size="3.72" dy="-3.0" font-style="italic">em1–/–</tspan><tspan dy="3.0" font-size="6.0" font-style="italic">/Il1rl1</tspan><tspan font-size="3.72" dy="-3.0" font-style="italic">–/–</tspan></text>
<line x1="178.70" y1="539.20" x2="220.60" y2="539.20" stroke="#555" stroke-width="1.0"/>
<text x="199.65" y="539.40" font-size="6.4" fill="#3a3a3a" stroke="#3a3a3a" stroke-width="0.141" font-weight="normal" font-style="normal" text-anchor="middle">*</text>
</g>
<g id="panelI">
<text x="263.6" y="520.0" font-size="12.2" font-weight="bold" fill="#0d0d0d">I</text>
<rect x="418.10" y="609.25" width="25.90" height="28.75" fill="#e59a96" stroke="none" stroke-width="1"/>
<rect x="459.80" y="605.67" width="26.50" height="32.33" fill="#8ca0c8" stroke="none" stroke-width="1"/>
<line x1="402.70" y1="523.50" x2="402.70" y2="638.90" stroke="#242424" stroke-width="1.25"/>
<line x1="399.70" y1="638.40" x2="402.70" y2="638.40" stroke="#242424" stroke-width="0.9"/>
<text x="387.90" y="640.85" font-size="6.6" fill="#444444" stroke="#444444" stroke-width="0.145" font-weight="normal" font-style="normal" textLength="9.30" lengthAdjust="spacingAndGlyphs">0.0</text>
<line x1="399.70" y1="615.98" x2="402.70" y2="615.98" stroke="#242424" stroke-width="0.9"/>
<text x="387.90" y="618.43" font-size="6.6" fill="#444444" stroke="#444444" stroke-width="0.145" font-weight="normal" font-style="normal" textLength="9.30" lengthAdjust="spacingAndGlyphs">0.5</text>
<line x1="399.70" y1="593.56" x2="402.70" y2="593.56" stroke="#242424" stroke-width="0.9"/>
<text x="387.90" y="596.01" font-size="6.6" fill="#444444" stroke="#444444" stroke-width="0.145" font-weight="normal" font-style="normal" textLength="9.30" lengthAdjust="spacingAndGlyphs">1.0</text>
<line x1="399.70" y1="571.14" x2="402.70" y2="571.14" stroke="#242424" stroke-width="0.9"/>
<text x="387.90" y="573.59" font-size="6.6" fill="#444444" stroke="#444444" stroke-width="0.145" font-weight="normal" font-style="normal" textLength="9.30" lengthAdjust="spacingAndGlyphs">1.5</text>
<line x1="399.70" y1="548.72" x2="402.70" y2="548.72" stroke="#242424" stroke-width="0.9"/>
<text x="387.90" y="551.17" font-size="6.6" fill="#444444" stroke="#444444" stroke-width="0.145" font-weight="normal" font-style="normal" textLength="9.30" lengthAdjust="spacingAndGlyphs">2.0</text>
<line x1="399.70" y1="526.30" x2="402.70" y2="526.30" stroke="#242424" stroke-width="0.9"/>
<text x="387.90" y="528.75" font-size="6.6" fill="#444444" stroke="#444444" stroke-width="0.145" font-weight="normal" font-style="normal" textLength="9.30" lengthAdjust="spacingAndGlyphs">2.5</text>
<line x1="402.20" y1="638.40" x2="500.80" y2="638.40" stroke="#242424" stroke-width="1.25"/>
<text x="-42.50" y="0.00" font-size="8.0" fill="#4c4c4c" stroke="#4c4c4c" stroke-width="0.176" font-weight="normal" font-style="normal" textLength="85.00" lengthAdjust="spacingAndGlyphs" transform="translate(383.00 581.00) rotate(-90)">Cartilage degradation score</text>
<line x1="431.00" y1="638.40" x2="431.00" y2="640.80" stroke="#242424" stroke-width="0.9"/>
<line x1="431.00" y1="601.18" x2="431.00" y2="615.98" stroke="#1e1e1e" stroke-width="1.1"/>
<line x1="424.30" y1="601.18" x2="437.70" y2="601.18" stroke="#1e1e1e" stroke-width="1.1"/>
<line x1="424.30" y1="615.98" x2="437.70" y2="615.98" stroke="#1e1e1e" stroke-width="1.1"/>
<circle cx="419.00" cy="593.56" r="2.15" fill="#9c1738" stroke="#6a0d25" stroke-width="0.5"/>
<circle cx="423.80" cy="593.56" r="2.15" fill="#9c1738" stroke="#6a0d25" stroke-width="0.5"/>
<circle cx="428.70" cy="593.56" r="2.15" fill="#9c1738" stroke="#6a0d25" stroke-width="0.5"/>
<circle cx="433.50" cy="593.56" r="2.15" fill="#9c1738" stroke="#6a0d25" stroke-width="0.5"/>
<circle cx="438.30" cy="593.56" r="2.15" fill="#9c1738" stroke="#6a0d25" stroke-width="0.5"/>
<circle cx="442.80" cy="593.56" r="2.15" fill="#9c1738" stroke="#6a0d25" stroke-width="0.5"/>
<circle cx="426.20" cy="638.40" r="2.15" fill="#9c1738" stroke="#6a0d25" stroke-width="0.5"/>
<circle cx="431.00" cy="638.40" r="2.15" fill="#9c1738" stroke="#6a0d25" stroke-width="0.5"/>
<circle cx="435.80" cy="638.40" r="2.15" fill="#9c1738" stroke="#6a0d25" stroke-width="0.5"/>
<text x="420.30" y="650.40" font-size="6.0" fill="#3c3c3c" stroke="#3c3c3c" stroke-width="0.132" font-weight="normal" font-style="normal" textLength="21.40" lengthAdjust="spacingAndGlyphs"><tspan font-style="italic">F8</tspan><tspan font-size="3.72" dy="-3.0" font-style="italic">em1–/–</tspan><tspan dy="3.0" font-size="6.0"></tspan></text>
<line x1="472.90" y1="638.40" x2="472.90" y2="640.80" stroke="#242424" stroke-width="0.9"/>
<line x1="472.90" y1="593.56" x2="472.90" y2="615.98" stroke="#1e1e1e" stroke-width="1.1"/>
<line x1="466.20" y1="593.56" x2="479.60" y2="593.56" stroke="#1e1e1e" stroke-width="1.1"/>
<line x1="466.20" y1="615.98" x2="479.60" y2="615.98" stroke="#1e1e1e" stroke-width="1.1"/>
<circle cx="472.50" cy="548.72" r="2.15" fill="#1f4a6b" stroke="#163850" stroke-width="0.5"/>
<circle cx="460.80" cy="593.56" r="2.15" fill="#1f4a6b" stroke="#163850" stroke-width="0.5"/>
<circle cx="469.00" cy="593.56" r="2.15" fill="#1f4a6b" stroke="#163850" stroke-width="0.5"/>
<circle cx="476.70" cy="593.56" r="2.15" fill="#1f4a6b" stroke="#163850" stroke-width="0.5"/>
<circle cx="485.00" cy="593.56" r="2.15" fill="#1f4a6b" stroke="#163850" stroke-width="0.5"/>
<circle cx="464.80" cy="638.40" r="2.15" fill="#1f4a6b" stroke="#163850" stroke-width="0.5"/>
<circle cx="472.90" cy="638.40" r="2.15" fill="#1f4a6b" stroke="#163850" stroke-width="0.5"/>
<circle cx="481.00" cy="638.40" r="2.15" fill="#1f4a6b" stroke="#163850" stroke-width="0.5"/>
<text x="450.60" y="650.40" font-size="6.0" fill="#3c3c3c" stroke="#3c3c3c" stroke-width="0.132" font-weight="normal" font-style="normal" textLength="44.60" lengthAdjust="spacingAndGlyphs"><tspan font-style="italic">F8</tspan><tspan font-size="3.72" dy="-3.0" font-style="italic">em1–/–</tspan><tspan dy="3.0" font-size="6.0" font-style="italic">/Il1rl1</tspan><tspan font-size="3.72" dy="-3.0" font-style="italic">–/–</tspan></text>
<line x1="431.20" y1="537.90" x2="472.90" y2="537.90" stroke="#555" stroke-width="1.0"/>
<text x="452.05" y="535.60" font-size="6.4" fill="#3a3a3a" stroke="#3a3a3a" stroke-width="0.141" font-weight="normal" font-style="normal" text-anchor="middle">ns</text>
</g>
<g id="panelA">
<text x="6.5" y="16.9" font-size="12.2" font-weight="bold" fill="#0d0d0d">A</text>
<path d="M30 98 Q60 84 90 82 Q120 84 150 98 V143 H30 Z" fill="#f3f6fc"/>
<path d="M21 79 Q89.5 42.5 158 78" fill="none" stroke="#b8caea" stroke-width="2.5" stroke-dasharray="1.9 1.3" style="filter:blur(0.35px)"/>
<path d="M28 90 Q89.5 57 151 90" fill="none" stroke="#b8caea" stroke-width="2.5" stroke-dasharray="1.9 1.3" style="filter:blur(0.35px)"/>
<line x1="44.00" y1="141.00" x2="50.00" y2="137.00" stroke="#cfd6e6" stroke-width="1.0"/>
<line x1="53.00" y1="133.00" x2="58.00" y2="130.50" stroke="#cfd6e6" stroke-width="1.0"/>
<line x1="64.00" y1="127.50" x2="69.00" y2="125.50" stroke="#cfd6e6" stroke-width="1.0"/>
<line x1="78.00" y1="124.50" x2="83.00" y2="123.80" stroke="#cfd6e6" stroke-width="1.0"/>
<line x1="92.00" y1="124.50" x2="97.00" y2="125.50" stroke="#cfd6e6" stroke-width="1.0"/>
<line x1="123.00" y1="140.00" x2="127.00" y2="143.00" stroke="#cfd6e6" stroke-width="1.0"/>
<text x="19.00" y="30.90" font-size="6.5" fill="#4a4a4a" stroke="#4a4a4a" stroke-width="0.143" font-weight="normal" font-style="normal" textLength="14.60" lengthAdjust="spacingAndGlyphs">IL-33</text>
<text x="19.00" y="56.80" font-size="6.5" fill="#4a4a4a" stroke="#4a4a4a" stroke-width="0.143" font-weight="normal" font-style="normal" textLength="13.40" lengthAdjust="spacingAndGlyphs">sST2</text>
<line x1="36.40" y1="55.60" x2="42.40" y2="48.00" stroke="#5681c6" stroke-width="2.1" stroke-linecap="round"/>
<circle cx="43.80" cy="46.20" r="3.7" fill="#6592d4" stroke="none" stroke-width="0.5"/>
<circle cx="44.40" cy="47.00" r="2.6" fill="#5681c6" stroke="none" stroke-width="0.5"/>
<line x1="50.60" y1="51.40" x2="53.20" y2="42.00" stroke="#5681c6" stroke-width="2.1" stroke-linecap="round"/>
<circle cx="54.60" cy="40.40" r="3.7" fill="#6592d4" stroke="none" stroke-width="0.5"/>
<circle cx="55.20" cy="41.20" r="2.6" fill="#5681c6" stroke="none" stroke-width="0.5"/>
<circle cx="45.60" cy="29.20" r="2.7" fill="#b81e24" stroke="#8e1218" stroke-width="0.5"/>
<circle cx="32.70" cy="36.00" r="2.7" fill="#b81e24" stroke="#8e1218" stroke-width="0.5"/>
<circle cx="40.40" cy="35.00" r="2.7" fill="#b81e24" stroke="#8e1218" stroke-width="0.5"/>
<circle cx="51.00" cy="37.60" r="2.7" fill="#b81e24" stroke="#8e1218" stroke-width="0.5"/>
<circle cx="32.70" cy="43.80" r="2.7" fill="#b81e24" stroke="#8e1218" stroke-width="0.5"/>
<circle cx="40.40" cy="42.70" r="2.7" fill="#b81e24" stroke="#8e1218" stroke-width="0.5"/>
<path d="M58.8 27 Q76 30.5 82.4 43.2" fill="none" stroke="#1a1a1a" stroke-width="1.15"/>
<path d="M84.1 46.8 L80.0 43.8 L84.7 41.6 Z" fill="#1a1a1a"/>
<rect x="82.70" y="56.00" width="3.50" height="30.50" fill="#2379b3" stroke="none" stroke-width="1"/>
<rect x="86.20" y="56.00" width="2.60" height="27.00" fill="#6690d2" stroke="none" stroke-width="1"/>
<path d="M85.6 59 C80 60 76.8 57.2 76.8 53.6 C76.8 50.2 80 48.4 83.2 49.6 C84.8 50.2 85.6 51.6 85.6 53 Z" fill="#2379b3"/>
<path d="M85.6 59 C91.2 60 94.6 57.2 94.6 53.6 C94.6 50.2 91.4 48.4 88.2 49.6 C86.6 50.2 85.6 51.6 85.6 53 Z" fill="#5f8fce"/>
<circle cx="85.60" cy="51.00" r="3.1" fill="#b81e24" stroke="#ffffff" stroke-width="0.8"/>
<text x="64.40" y="83.70" font-size="4.0" fill="#4a4a4a" stroke="#4a4a4a" stroke-width="0.088" font-weight="normal" font-style="normal" textLength="16.40" lengthAdjust="spacingAndGlyphs">IL-1-RAP</text>
<text x="89.60" y="83.70" font-size="4.0" fill="#4a4a4a" stroke="#4a4a4a" stroke-width="0.088" font-weight="normal" font-style="normal" textLength="6.60" lengthAdjust="spacingAndGlyphs">ST2</text>
<rect x="74.90" y="86.40" width="24.60" height="9.20" fill="#f6f9fd" stroke="#33608f" stroke-width="1.1" rx="4.60"/>
<text x="77.10" y="93.45" font-size="6.8" fill="#444" stroke="#444" stroke-width="0.150" font-weight="normal" font-style="normal" textLength="20.20" lengthAdjust="spacingAndGlyphs">MyD88</text>
<rect x="46.80" y="97.10" width="24.00" height="9.20" fill="#f6f9fd" stroke="#33608f" stroke-width="1.1" rx="4.60"/>
<text x="49.10" y="104.15" font-size="6.8" fill="#444" stroke="#444" stroke-width="0.150" font-weight="normal" font-style="normal" textLength="19.40" lengthAdjust="spacingAndGlyphs">TRAF6</text>
<rect x="46.90" y="112.80" width="24.20" height="9.20" fill="#f6f9fd" stroke="#33608f" stroke-width="1.1" rx="4.60"/>
<text x="50.80" y="119.85" font-size="6.8" fill="#444" stroke="#444" stroke-width="0.150" font-weight="normal" font-style="normal" textLength="16.40" lengthAdjust="spacingAndGlyphs">NFkB</text>
<rect x="106.30" y="97.10" width="24.20" height="9.20" fill="#f6f9fd" stroke="#33608f" stroke-width="1.1" rx="4.60"/>
<text x="109.30" y="104.15" font-size="6.8" fill="#444" stroke="#444" stroke-width="0.150" font-weight="normal" font-style="normal" textLength="18.20" lengthAdjust="spacingAndGlyphs">MAPK</text>
<line x1="79.80" y1="97.80" x2="74.80" y2="99.77" stroke="#1c1c1c" stroke-width="0.95"/>
<path d="M72.20 100.80 L74.31 98.52 L75.30 101.03 Z" fill="#1c1c1c"/>
<line x1="96.20" y1="97.20" x2="102.99" y2="99.80" stroke="#1c1c1c" stroke-width="0.95"/>
<path d="M105.60 100.80 L102.50 101.06 L103.47 98.54 Z" fill="#1c1c1c"/>
<line x1="57.70" y1="106.40" x2="57.70" y2="109.60" stroke="#1c1c1c" stroke-width="0.95"/>
<path d="M57.70 112.40 L56.35 109.60 L59.05 109.60 Z" fill="#1c1c1c"/>
<line x1="71.20" y1="122.00" x2="76.70" y2="125.81" stroke="#1c1c1c" stroke-width="0.95"/>
<path d="M79.00 127.40 L75.93 126.92 L77.47 124.70 Z" fill="#1c1c1c"/>
<line x1="105.60" y1="106.60" x2="95.85" y2="119.94" stroke="#1c1c1c" stroke-width="0.95"/>
<path d="M94.20 122.20 L94.76 119.14 L96.94 120.74 Z" fill="#1c1c1c"/>
<polyline points="71.20,141.89 71.70,142.20 72.20,142.46 72.70,142.64 73.20,142.76 73.70,142.80 74.20,142.76 74.70,142.65 75.20,142.47 75.70,142.22 76.20,141.92 76.70,141.56 77.20,141.17 77.70,140.76 78.20,140.33 78.70,139.91 79.20,139.50 79.70,139.12" fill="none" stroke="#8a8a8a" stroke-width="1.1" stroke-linejoin="round"/>
<polyline points="71.20,138.91 71.70,138.60 72.20,138.34 72.70,138.16 73.20,138.04 73.70,138.00 74.20,138.04 74.70,138.15 75.20,138.33 75.70,138.58 76.20,138.88 76.70,139.24 77.20,139.63 77.70,140.04 78.20,140.47 78.70,140.89 79.20,141.30 79.70,141.68" fill="none" stroke="#8a8a8a" stroke-width="1.1" stroke-linejoin="round"/>
<polyline points="106.00,141.61 106.50,141.96 107.00,142.26 107.50,142.50 108.00,142.67 108.50,142.77 109.00,142.80 109.50,142.75 110.00,142.62 110.50,142.43 111.00,142.17 111.50,141.85 112.00,141.49 112.50,141.09 113.00,140.67 113.50,140.25 114.00,139.82 114.50,139.42 115.00,139.04" fill="none" stroke="#8a8a8a" stroke-width="1.1" stroke-linejoin="round"/>
<polyline points="106.00,139.19 106.50,138.84 107.00,138.54 107.50,138.30 108.00,138.13 108.50,138.03 109.00,138.00 109.50,138.05 110.00,138.18 110.50,138.37 111.00,138.63 111.50,138.95 112.00,139.31 112.50,139.71 113.00,140.13 113.50,140.55 114.00,140.98 114.50,141.38 115.00,141.76" fill="none" stroke="#8a8a8a" stroke-width="1.1" stroke-linejoin="round"/>
<polyline points="80.00,138.84 80.50,138.52 81.00,138.26 81.50,138.06 82.00,137.94 82.50,137.90 83.00,137.94 83.50,138.05 84.00,138.24 84.50,138.50 85.00,138.82 85.50,139.19 86.00,139.59 86.50,140.03 87.00,140.47 87.50,140.91 88.00,141.34 88.50,141.74 89.00,142.09 89.50,142.39 90.00,142.63 90.50,142.79 91.00,142.88 91.50,142.89 92.00,142.83 92.50,142.68 93.00,142.46 93.50,142.18 94.00,141.84 94.50,141.45 95.00,141.03 95.50,140.60 96.00,140.15 96.50,139.71 97.00,139.30 97.50,138.92 98.00,138.58 98.50,138.31 99.00,138.10 99.50,137.96 100.00,137.90 100.50,137.92 101.00,138.02 101.50,138.20 102.00,138.44 102.50,138.75 103.00,139.11 103.50,139.51 104.00,139.94 104.50,140.38 105.00,140.83 105.50,141.26 106.00,141.66" fill="none" stroke="#e03a1e" stroke-width="1.1" stroke-linejoin="round"/>
<polyline points="80.00,141.96 80.50,142.28 81.00,142.54 81.50,142.74 82.00,142.86 82.50,142.90 83.00,142.86 83.50,142.75 84.00,142.56 84.50,142.30 85.00,141.98 85.50,141.61 86.00,141.21 86.50,140.77 87.00,140.33 87.50,139.89 88.00,139.46 88.50,139.06 89.00,138.71 89.50,138.41 90.00,138.17 90.50,138.01 91.00,137.92 91.50,137.91 92.00,137.97 92.50,138.12 93.00,138.34 93.50,138.62 94.00,138.96 94.50,139.35 95.00,139.77 95.50,140.20 96.00,140.65 96.50,141.09 97.00,141.50 97.50,141.88 98.00,142.22 98.50,142.49 99.00,142.70 99.50,142.84 100.00,142.90 100.50,142.88 101.00,142.78 101.50,142.60 102.00,142.36 102.50,142.05 103.00,141.69 103.50,141.29 104.00,140.86 104.50,140.42 105.00,139.97 105.50,139.54 106.00,139.14" fill="none" stroke="#e03a1e" stroke-width="1.1" stroke-linejoin="round"/>
<path d="M79.6 138.4 V131.6 H92" fill="none" stroke="#e02b2b" stroke-width="0.9"/>
<path d="M94.2 131.6 L91.4 130.3 L91.4 132.9 Z" fill="#e02b2b"/>
<rect x="98.60" y="124.50" width="62.20" height="11.80" fill="#ffffff" stroke="#e6a3ac" stroke-width="0.8"/>
<text x="103.30" y="131.90" font-size="4.2" fill="#444" stroke="#444" stroke-width="0.092" font-weight="normal" font-style="normal" textLength="53.00" lengthAdjust="spacingAndGlyphs">pro-inflammatory cytokines</text>
</g>
<g id="panelC">
<text x="6.5" y="178.1" font-size="12.2" font-weight="bold" fill="#0d0d0d">C</text>
<g transform="translate(32.30 181.00) scale(1.0)"><path d="M5 4.4 C7.6 2.6 12 3 13.6 6 C15 8.6 14.6 11.6 13.6 12.6 L7 12.6 C5.6 11.4 5.8 10 6.6 9.2 C5 8 4.4 6 5 4.4 Z" fill="#3a3a3a"/><path d="M0.2 6.6 C1 4.6 3 3.2 5.4 3.2 C7.6 3.2 9 4.6 9 6.6 C9 8.6 7.4 9.6 5.2 9.4 C3.4 9.2 1.4 8.2 0.2 6.6 Z" fill="#3a3a3a"/><circle cx="6.0" cy="2.2" r="1.6" fill="#3a3a3a"/><path d="M3.4 9 C3 10 3.6 10.8 4.8 10.6 L6 9.6 Z" fill="#3a3a3a"/><path d="M4 12.7 C4 11.6 6 11.6 8 11.9 L13.6 12 C14.6 12.3 14.4 12.9 13.4 12.9 L5 12.95 C4.4 12.95 4 12.9 4 12.7 Z" fill="#3a3a3a"/><path d="M13 12.5 C16.4 13 20.4 12.8 21 10.6 C21.4 9.2 21.2 8 20.8 7.2" fill="none" stroke="#3a3a3a" stroke-width="0.55" stroke-linecap="round"/><circle cx="3.5" cy="5.9" r="0.35" fill="#fff"/></g>
<g transform="translate(96.90 181.00) scale(1.0)"><path d="M5 4.4 C7.6 2.6 12 3 13.6 6 C15 8.6 14.6 11.6 13.6 12.6 L7 12.6 C5.6 11.4 5.8 10 6.6 9.2 C5 8 4.4 6 5 4.4 Z" fill="#3a3a3a"/><path d="M0.2 6.6 C1 4.6 3 3.2 5.4 3.2 C7.6 3.2 9 4.6 9 6.6 C9 8.6 7.4 9.6 5.2 9.4 C3.4 9.2 1.4 8.2 0.2 6.6 Z" fill="#3a3a3a"/><circle cx="6.0" cy="2.2" r="1.6" fill="#3a3a3a"/><path d="M3.4 9 C3 10 3.6 10.8 4.8 10.6 L6 9.6 Z" fill="#3a3a3a"/><path d="M4 12.7 C4 11.6 6 11.6 8 11.9 L13.6 12 C14.6 12.3 14.4 12.9 13.4 12.9 L5 12.95 C4.4 12.95 4 12.9 4 12.7 Z" fill="#3a3a3a"/><path d="M13 12.5 C16.4 13 20.4 12.8 21 10.6 C21.4 9.2 21.2 8 20.8 7.2" fill="none" stroke="#3a3a3a" stroke-width="0.55" stroke-linecap="round"/><circle cx="3.5" cy="5.9" r="0.35" fill="#fff"/></g>
<g transform="translate(30.90 237.20) scale(1.0)"><path d="M5 4.4 C7.6 2.6 12 3 13.6 6 C15 8.6 14.6 11.6 13.6 12.6 L7 12.6 C5.6 11.4 5.8 10 6.6 9.2 C5 8 4.4 6 5 4.4 Z" fill="#3a3a3a"/><path d="M0.2 6.6 C1 4.6 3 3.2 5.4 3.2 C7.6 3.2 9 4.6 9 6.6 C9 8.6 7.4 9.6 5.2 9.4 C3.4 9.2 1.4 8.2 0.2 6.6 Z" fill="#3a3a3a"/><circle cx="6.0" cy="2.2" r="1.6" fill="#3a3a3a"/><path d="M3.4 9 C3 10 3.6 10.8 4.8 10.6 L6 9.6 Z" fill="#3a3a3a"/><path d="M4 12.7 C4 11.6 6 11.6 8 11.9 L13.6 12 C14.6 12.3 14.4 12.9 13.4 12.9 L5 12.95 C4.4 12.95 4 12.9 4 12.7 Z" fill="#3a3a3a"/><path d="M13 12.5 C16.4 13 20.4 12.8 21 10.6 C21.4 9.2 21.2 8 20.8 7.2" fill="none" stroke="#3a3a3a" stroke-width="0.55" stroke-linecap="round"/><circle cx="3.5" cy="5.9" r="0.35" fill="#fff"/></g>
<g transform="translate(96.30 237.20) scale(1.0)"><path d="M5 4.4 C7.6 2.6 12 3 13.6 6 C15 8.6 14.6 11.6 13.6 12.6 L7 12.6 C5.6 11.4 5.8 10 6.6 9.2 C5 8 4.4 6 5 4.4 Z" fill="#3a3a3a"/><path d="M0.2 6.6 C1 4.6 3 3.2 5.4 3.2 C7.6 3.2 9 4.6 9 6.6 C9 8.6 7.4 9.6 5.2 9.4 C3.4 9.2 1.4 8.2 0.2 6.6 Z" fill="#3a3a3a"/><circle cx="6.0" cy="2.2" r="1.6" fill="#3a3a3a"/><path d="M3.4 9 C3 10 3.6 10.8 4.8 10.6 L6 9.6 Z" fill="#3a3a3a"/><path d="M4 12.7 C4 11.6 6 11.6 8 11.9 L13.6 12 C14.6 12.3 14.4 12.9 13.4 12.9 L5 12.95 C4.4 12.95 4 12.9 4 12.7 Z" fill="#3a3a3a"/><path d="M13 12.5 C16.4 13 20.4 12.8 21 10.6 C21.4 9.2 21.2 8 20.8 7.2" fill="none" stroke="#3a3a3a" stroke-width="0.55" stroke-linecap="round"/><circle cx="3.5" cy="5.9" r="0.35" fill="#fff"/></g>
<g transform="translate(39.20 294.00) scale(1.46)"><path d="M5 4.4 C7.6 2.6 12 3 13.6 6 C15 8.6 14.6 11.6 13.6 12.6 L7 12.6 C5.6 11.4 5.8 10 6.6 9.2 C5 8 4.4 6 5 4.4 Z" fill="#3a3a3a"/><path d="M0.2 6.6 C1 4.6 3 3.2 5.4 3.2 C7.6 3.2 9 4.6 9 6.6 C9 8.6 7.4 9.6 5.2 9.4 C3.4 9.2 1.4 8.2 0.2 6.6 Z" fill="#3a3a3a"/><circle cx="6.0" cy="2.2" r="1.6" fill="#3a3a3a"/><path d="M3.4 9 C3 10 3.6 10.8 4.8 10.6 L6 9.6 Z" fill="#3a3a3a"/><path d="M4 12.7 C4 11.6 6 11.6 8 11.9 L13.6 12 C14.6 12.3 14.4 12.9 13.4 12.9 L5 12.95 C4.4 12.95 4 12.9 4 12.7 Z" fill="#3a3a3a"/><path d="M13 12.5 C16.4 13 20.4 12.8 21 10.6 C21.4 9.2 21.2 8 20.8 7.2" fill="none" stroke="#3a3a3a" stroke-width="0.55" stroke-linecap="round"/><circle cx="3.5" cy="5.9" r="0.35" fill="#fff"/></g>
<path d="M72.30 185.40 L76.90 190.00 M76.90 185.40 L72.30 190.00" stroke="#1a1a1a" stroke-width="1.6" fill="none"/>
<path d="M72.30 241.60 L76.90 246.20 M76.90 241.60 L72.30 246.20" stroke="#1a1a1a" stroke-width="1.6" fill="none"/>
<text x="31.30" y="202.40" font-size="6.7" fill="#404040" stroke="#404040" stroke-width="0.147" font-weight="normal" font-style="normal" textLength="14.20" lengthAdjust="spacingAndGlyphs">Male</text>
<text x="24.60" y="210.40" font-size="6.7" fill="#404040" stroke="#404040" stroke-width="0.147" font-weight="normal" font-style="normal" textLength="27.60" lengthAdjust="spacingAndGlyphs"><tspan font-style="italic">F8</tspan><tspan font-size="4.5" dy="-2.5" font-style="italic">em1</tspan><tspan dy="2.5" font-size="6.7">: </tspan>XY</text>
<text x="17.40" y="218.10" font-size="6.7" fill="#404040" stroke="#404040" stroke-width="0.147" font-weight="normal" font-style="normal" textLength="42.00" lengthAdjust="spacingAndGlyphs"><tspan font-style="italic">Il-1rl1</tspan>: <tspan fill="#3f7fbd" stroke="#3f7fbd">KO/KO</tspan></text>
<text x="97.00" y="202.40" font-size="6.7" fill="#404040" stroke="#404040" stroke-width="0.147" font-weight="normal" font-style="normal" textLength="20.80" lengthAdjust="spacingAndGlyphs">Female</text>
<text x="93.90" y="210.40" font-size="6.7" fill="#404040" stroke="#404040" stroke-width="0.147" font-weight="normal" font-style="normal" textLength="27.00" lengthAdjust="spacingAndGlyphs"><tspan font-style="italic">F8</tspan><tspan font-size="4.5" dy="-2.5" font-style="italic">em1</tspan><tspan dy="2.5" font-size="6.7">: </tspan><tspan fill="#dd3a5c" stroke="#dd3a5c">XX</tspan></text>
<text x="86.40" y="218.10" font-size="6.7" fill="#404040" stroke="#404040" stroke-width="0.147" font-weight="normal" font-style="normal" textLength="42.00" lengthAdjust="spacingAndGlyphs"><tspan font-style="italic">Il-1rl1</tspan>: WT/WT</text>
<text x="31.30" y="258.80" font-size="6.7" fill="#404040" stroke="#404040" stroke-width="0.147" font-weight="normal" font-style="normal" textLength="14.20" lengthAdjust="spacingAndGlyphs">Male</text>
<text x="24.60" y="266.80" font-size="6.7" fill="#404040" stroke="#404040" stroke-width="0.147" font-weight="normal" font-style="normal" textLength="27.60" lengthAdjust="spacingAndGlyphs"><tspan font-style="italic">F8</tspan><tspan font-size="4.5" dy="-2.5" font-style="italic">em1</tspan><tspan dy="2.5" font-size="6.7">: </tspan><tspan fill="#dd3a5c" stroke="#dd3a5c">X</tspan>Y</text>
<text x="17.40" y="274.50" font-size="6.7" fill="#404040" stroke="#404040" stroke-width="0.147" font-weight="normal" font-style="normal" textLength="42.00" lengthAdjust="spacingAndGlyphs"><tspan font-style="italic">Il-1rl1</tspan>: <tspan fill="#3f7fbd" stroke="#3f7fbd">KO</tspan>/WT</text>
<text x="97.00" y="258.80" font-size="6.7" fill="#404040" stroke="#404040" stroke-width="0.147" font-weight="normal" font-style="normal" textLength="20.80" lengthAdjust="spacingAndGlyphs">Female</text>
<text x="93.90" y="266.80" font-size="6.7" fill="#404040" stroke="#404040" stroke-width="0.147" font-weight="normal" font-style="normal" textLength="27.00" lengthAdjust="spacingAndGlyphs"><tspan font-style="italic">F8</tspan><tspan font-size="4.5" dy="-2.5" font-style="italic">em1</tspan><tspan dy="2.5" font-size="6.7">: </tspan>X<tspan fill="#dd3a5c" stroke="#dd3a5c">X</tspan></text>
<text x="86.40" y="274.50" font-size="6.7" fill="#404040" stroke="#404040" stroke-width="0.147" font-weight="normal" font-style="normal" textLength="42.00" lengthAdjust="spacingAndGlyphs"><tspan font-style="italic">Il-1rl1</tspan>: WT/<tspan fill="#3f7fbd" stroke="#3f7fbd">KO</tspan></text>
<text x="93.30" y="296.60" font-size="6.7" fill="#404040" stroke="#404040" stroke-width="0.147" font-weight="normal" font-style="normal" textLength="14.60" lengthAdjust="spacingAndGlyphs">Male</text>
<text x="86.90" y="304.60" font-size="6.7" fill="#404040" stroke="#404040" stroke-width="0.147" font-weight="normal" font-style="normal" textLength="27.40" lengthAdjust="spacingAndGlyphs"><tspan font-style="italic">F8</tspan><tspan font-size="4.5" dy="-2.5" font-style="italic">em1</tspan><tspan dy="2.5" font-size="6.7">: </tspan><tspan fill="#dd3a5c" stroke="#dd3a5c">XY</tspan></text>
<text x="80.10" y="312.30" font-size="6.7" fill="#404040" stroke="#404040" stroke-width="0.147" font-weight="normal" font-style="normal" textLength="41.00" lengthAdjust="spacingAndGlyphs"><tspan font-style="italic">Il-1rl1</tspan>: <tspan fill="#3f7fbd" stroke="#3f7fbd">KO/KO</tspan></text>
<path d="M38.5 222.0 V227.8 H107.7 V222.0" fill="none" stroke="#333" stroke-width="0.9"/>
<line x1="74.60" y1="227.80" x2="74.60" y2="232.20" stroke="#1a1a1a" stroke-width="0.9"/>
<path d="M74.60 235.40 L73.00 232.20 L76.20 232.20 Z" fill="#1a1a1a"/>
<path d="M38.5 279.8 V285.6 H107.7 V279.8" fill="none" stroke="#333" stroke-width="0.9"/>
<line x1="74.60" y1="285.60" x2="74.60" y2="290.40" stroke="#1a1a1a" stroke-width="0.9"/>
<path d="M74.60 293.60 L73.00 290.40 L76.20 290.40 Z" fill="#1a1a1a"/>
</g>
<defs>
<filter id="spW" x="0" y="0" width="100%" height="100%" color-interpolation-filters="sRGB"><feTurbulence type="fractalNoise" baseFrequency="0.5" numOctaves="2" seed="4"/><feColorMatrix type="matrix" values="0 0 0 0 1  0 0 0 0 1  0 0 0 0 1  5 0 0 0 -2.9"/></filter>
<filter id="laceW" x="0" y="0" width="100%" height="100%" color-interpolation-filters="sRGB"><feTurbulence type="fractalNoise" baseFrequency="0.21" numOctaves="3" seed="9"/><feColorMatrix type="matrix" values="0 0 0 0 0.97  0 0 0 0 0.96  0 0 0 0 1  0 7 0 0 -3.75"/></filter>
<filter id="laceW2" x="0" y="0" width="100%" height="100%" color-interpolation-filters="sRGB"><feTurbulence type="fractalNoise" baseFrequency="0.16" numOctaves="3" seed="23"/><feColorMatrix type="matrix" values="0 0 0 0 0.97  0 0 0 0 0.96  0 0 0 0 1  0 0 7 0 -3.7"/></filter>
<filter id="spD" x="0" y="0" width="100%" height="100%" color-interpolation-filters="sRGB"><feTurbulence type="fractalNoise" baseFrequency="0.42" numOctaves="2" seed="11"/><feColorMatrix type="matrix" values="0 0 0 0 0.30  0 0 0 0 0.14  0 0 0 0 0.50  0 5 0 0 -2.6"/></filter>
<filter id="spP" x="0" y="0" width="100%" height="100%" color-interpolation-filters="sRGB"><feTurbulence type="fractalNoise" baseFrequency="0.17" numOctaves="3" seed="31"/><feColorMatrix type="matrix" values="0 0 0 0 0.50  0 0 0 0 0.44  0 0 0 0 0.68  0 7 0 0 -3.85"/></filter>
<filter id="spB" x="0" y="0" width="100%" height="100%" color-interpolation-filters="sRGB"><feTurbulence type="fractalNoise" baseFrequency="0.4" numOctaves="2" seed="7"/><feColorMatrix type="matrix" values="0 0 0 0 0.17  0 0 0 0 0.28  0 0 0 0 0.66  0 0 6 0 -2.9"/></filter>
<filter id="spV" x="0" y="0" width="100%" height="100%" color-interpolation-filters="sRGB"><feTurbulence type="fractalNoise" baseFrequency="0.3" numOctaves="3" seed="17"/><feColorMatrix type="matrix" values="0 0 0 0 0.66  0 0 0 0 0.42  0 0 0 0 0.74  0 5 0 0 -2.4"/></filter>
<filter id="rough" x="-10%" y="-10%" width="120%" height="120%"><feTurbulence type="fractalNoise" baseFrequency="0.3" numOctaves="2" seed="5" result="n"/><feDisplacementMap in="SourceGraphic" in2="n" scale="4" xChannelSelector="R" yChannelSelector="G"/><feGaussianBlur stdDeviation="0.45"/></filter>
<filter id="bl1" x="-20%" y="-20%" width="140%" height="140%"><feGaussianBlur stdDeviation="1.2"/></filter>
<filter id="bl2" x="-20%" y="-20%" width="140%" height="140%"><feGaussianBlur stdDeviation="2.6"/></filter>
<filter id="bl05" x="-20%" y="-20%" width="140%" height="140%"><feGaussianBlur stdDeviation="0.6"/></filter>
</defs>
<g id="histG">
<linearGradient id="gG1" x1="0" y1="0" x2="1" y2="0"><stop offset="0" stop-color="#d2a8d8"/><stop offset="0.32" stop-color="#d3bfe0"/><stop offset="0.6" stop-color="#cbc6e4"/><stop offset="0.82" stop-color="#d3d9ee"/><stop offset="1" stop-color="#dde3f3"/></linearGradient>
<clipPath id="hc1"><path d="M255.2 352.3 h84.2 v63.2 h-84.2 Z"/></clipPath>
<g clip-path="url(#hc1)">
<rect x="255.20" y="352.30" width="84.20" height="63.20" fill="url(#gG1)" stroke="none" stroke-width="1"/>
<path d="M255 352 H282 C276 366 266 378 255 388 Z" fill="#cc9fd4" opacity="0.85" filter="url(#bl1)"/>
<path d="M255 404 C266 398 276 392 282 386 C284 396 282 408 280 416 H255 Z" fill="#cda2d4" opacity="0.8" filter="url(#bl1)"/>
<clipPath id="hc2"><path d="M255 352 H292 C290 372 286 396 282 416 H255 Z"/></clipPath>
<g clip-path="url(#hc2)" opacity="0.3"><rect x="0" y="340" width="520" height="319" fill="#fff" filter="url(#spV)"/></g>
<path d="M254 397 C268 388 282 372 289 353" fill="none" stroke="#e4e1ee" stroke-width="5.2" opacity="1" stroke-linecap="round" filter="url(#bl05)"/>
<path d="M256 398 C268 390 280 378 286 364" fill="none" stroke="#efeef6" stroke-width="1.6" opacity="0.8" stroke-linecap="round" filter="url(#bl05)"/>
<path d="M313 354 C312 370 309 388 302 414" fill="none" stroke="#9fb2de" stroke-width="13" opacity="0.75" stroke-linecap="round" filter="url(#bl2)"/>
<path d="M327 356 C326 376 327 396 328.4 414" fill="none" stroke="#b4c4e6" stroke-width="7" opacity="0.7" stroke-linecap="round" filter="url(#bl2)"/>
<g filter="url(#rough)">
<path d="M312.6 355 C311.6 370 309 384 304 398" fill="none" stroke="#6480c6" stroke-width="4.6" opacity="0.85" stroke-linecap="round" stroke-dasharray="5 1.5 8 2"/>
<path d="M302.4 385 C300 396 300 406 300.6 414" fill="none" stroke="#3355a8" stroke-width="6.6" opacity="0.95" stroke-linecap="round"/>
<path d="M293 390 C291 400 291 408 292 414" fill="none" stroke="#7f92cc" stroke-width="2.4" opacity="0.7" stroke-linecap="round"/>
<path d="M327 358 C325.4 374 326 388 327 398" fill="none" stroke="#86a0d6" stroke-width="2.6" opacity="0.8" stroke-linecap="round" stroke-dasharray="4 2 6 3"/>
<path d="M327.6 402 C327.6 406 327.6 410 328.4 413" fill="none" stroke="#5474bc" stroke-width="3.4" opacity="0.9" stroke-linecap="round"/>
</g>
<clipPath id="hc3"><path d="M290 352 H336 V416 H286 Z"/></clipPath>
<g clip-path="url(#hc3)" opacity="0.75"><rect x="0" y="340" width="520" height="319" fill="#fff" filter="url(#spW)"/></g>
<clipPath id="hc4"><path d="M296 380 H309 V416 H294 Z"/></clipPath>
<g clip-path="url(#hc4)" opacity="0.6"><rect x="0" y="340" width="520" height="319" fill="#fff" filter="url(#spB)"/></g>
<clipPath id="hc5"><path d="M255.2 352.3 h40 v63.2 h-40 Z"/></clipPath>
<g clip-path="url(#hc5)" opacity="0.3"><rect x="0" y="340" width="520" height="319" fill="#fff" filter="url(#spW)"/></g>
<line x1="315.60" y1="391.70" x2="308.80" y2="391.70" stroke="#111" stroke-width="0.75"/>
<path d="M307.60 391.70 l2 -1.1 v2.2 Z" fill="#111"/>
<rect x="317.80" y="413.40" width="20.20" height="1.70" fill="#3a3934" stroke="none" stroke-width="1"/>
</g>
<rect x="255.20" y="352.30" width="84.20" height="63.20" fill="none" stroke="#2c2834" stroke-width="1.0"/>
<linearGradient id="gG2" x1="0" y1="0" x2="1" y2="0"><stop offset="0" stop-color="#b9a2d2"/><stop offset="0.5" stop-color="#bcaeda"/><stop offset="0.85" stop-color="#b8aedb"/><stop offset="1" stop-color="#c8c4e6"/></linearGradient>
<clipPath id="hc6"><path d="M255.2 418.3 h84.2 v63.1 h-84.2 Z"/></clipPath>
<g clip-path="url(#hc6)">
<rect x="255.20" y="418.30" width="84.20" height="63.10" fill="url(#gG2)" stroke="none" stroke-width="1"/>
<path d="M255 418 H284 C282 432 272 448 258 460 L255 462 Z" fill="#8a5cae" opacity="1" filter="url(#bl1)"/>
<path d="M255 440 C262 448 262 464 258 482 H255 Z" fill="#a074be" opacity="1" filter="url(#bl1)"/>
<clipPath id="hc7"><path d="M255 418 H284 C282 432 272 446 255 456 Z"/></clipPath>
<g clip-path="url(#hc7)" opacity="1"><rect x="0" y="340" width="520" height="319" fill="#fff" filter="url(#laceW)"/></g>
<clipPath id="hc8"><path d="M255 418 H284 C282 432 272 446 255 456 Z"/></clipPath>
<g clip-path="url(#hc8)" opacity="0.8"><rect x="0" y="340" width="520" height="319" fill="#fff" filter="url(#spW)"/></g>
<path d="M258 479 C276 462 290 442 297 420" fill="none" stroke="#ddd8ec" stroke-width="2.2" opacity="1" stroke-linecap="round" filter="url(#bl05)"/>
<path d="M268 462 C280 458 292 462 300 470" fill="none" stroke="#e2deef" stroke-width="2.4" opacity="1" stroke-linecap="round" filter="url(#bl05)"/>
<path d="M262 476 C270 468 278 464 288 462" fill="none" stroke="#d8d2e8" stroke-width="1.6" opacity="1" stroke-linecap="round" filter="url(#bl05)"/>
<path d="M300 444 C304 440 306 442 306 446" fill="none" stroke="#ddd8ec" stroke-width="1.6" opacity="1" stroke-linecap="round" filter="url(#bl05)"/>
<path d="M312 458 C314 466 313 472 314 478" fill="none" stroke="#d4cfe8" stroke-width="1.2" opacity="1" stroke-linecap="round" filter="url(#bl05)"/>
<path d="M331 418 H340 V482 H333.4 C334.4 462 333 440 331 418 Z" fill="#eceff9" opacity="1"/>
<path d="M326.4 420 C328.4 440 327.6 462 326 480" fill="none" stroke="#9a8cc8" stroke-width="1.5" opacity="0.9" stroke-linecap="round" filter="url(#bl05)" stroke-dasharray="2.4 1.2"/>
<path d="M330.6 420 C332.4 440 331.8 462 330.4 480" fill="none" stroke="#c7c2e4" stroke-width="1.0" opacity="1" stroke-linecap="round" filter="url(#bl05)"/>
<g filter="url(#rough)">
<path d="M291.6 449 C290 452 289.4 455 289.8 458" fill="none" stroke="#4d55ae" stroke-width="2.6" opacity="0.9" stroke-linecap="round"/>
<path d="M291 441 C292.6 441.4 293.4 442.6 293 443.6" fill="none" stroke="#514aa6" stroke-width="1.6" opacity="0.8" stroke-linecap="round"/>
</g>
<clipPath id="hc9"><path d="M286 418.3 h44 v63 h-44 Z"/></clipPath>
<g clip-path="url(#hc9)" opacity="0.35"><rect x="0" y="340" width="520" height="319" fill="#fff" filter="url(#spW)"/></g>
<clipPath id="hc10"><path d="M262 430 h66 v52 h-66 Z"/></clipPath>
<g clip-path="url(#hc10)" opacity="0.1"><rect x="0" y="340" width="520" height="319" fill="#fff" filter="url(#spD)"/></g>
<line x1="302.00" y1="452.20" x2="295.20" y2="452.20" stroke="#111" stroke-width="0.75"/>
<path d="M294.00 452.20 l2 -1.1 v2.2 Z" fill="#111"/>
<rect x="317.80" y="479.30" width="20.20" height="1.70" fill="#3a3934" stroke="none" stroke-width="1"/>
</g>
<rect x="255.20" y="418.30" width="84.20" height="63.10" fill="none" stroke="#2c2834" stroke-width="1.0"/>
<text x="-11.00" y="0.00" font-size="6.0" fill="#3c3c3c" stroke="#3c3c3c" stroke-width="0.132" font-weight="normal" font-style="normal" textLength="22.00" lengthAdjust="spacingAndGlyphs" transform="translate(250.50 382.80) rotate(-90)"><tspan font-style="italic">F8</tspan><tspan font-size="3.72" dy="-3.0" font-style="italic">em1–/–</tspan><tspan dy="3.0" font-size="6.0"></tspan></text>
<text x="-22.00" y="0.00" font-size="6.0" fill="#3c3c3c" stroke="#3c3c3c" stroke-width="0.132" font-weight="normal" font-style="normal" textLength="44.00" lengthAdjust="spacingAndGlyphs" transform="translate(250.50 449.80) rotate(-90)"><tspan font-style="italic">F8</tspan><tspan font-size="3.72" dy="-3.0" font-style="italic">em1–/–</tspan><tspan dy="3.0" font-size="6.0" font-style="italic">/Il1rl1</tspan><tspan font-size="3.72" dy="-3.0" font-style="italic">–/–</tspan></text>
</g>
<g id="histH">
<linearGradient id="gH1" x1="0" y1="0" x2="1" y2="0"><stop offset="0" stop-color="#5f409f"/><stop offset="0.5" stop-color="#6a48a8"/><stop offset="0.78" stop-color="#8062b8"/><stop offset="0.86" stop-color="#a597d4"/><stop offset="0.93" stop-color="#bcbbe4"/><stop offset="1" stop-color="#cfdcf2"/></linearGradient>
<clipPath id="hc11"><path d="M29.3 522.5 h84.5 v63.8 h-84.5 Z"/></clipPath>
<g clip-path="url(#hc11)">
<rect x="29.30" y="522.50" width="84.50" height="63.80" fill="url(#gH1)" stroke="none" stroke-width="1"/>
<path d="M29 560 C44 566 60 562 72 548 C70 568 56 582 29 587 Z" fill="#4e2f92" opacity="0.9" filter="url(#bl1)"/>
<clipPath id="hc12"><path d="M29 522 H74 C74 548 62 566 29 580 Z"/></clipPath>
<g clip-path="url(#hc12)" opacity="0.6"><rect x="0" y="340" width="520" height="319" fill="#fff" filter="url(#laceW)"/></g>
<clipPath id="hc13"><path d="M29.3 522.5 h70 v63.8 h-70 Z"/></clipPath>
<g clip-path="url(#hc13)" opacity="0.5"><rect x="0" y="340" width="520" height="319" fill="#fff" filter="url(#spW)"/></g>
<clipPath id="hc14"><path d="M29.3 522.5 h70 v63.8 h-70 Z"/></clipPath>
<g clip-path="url(#hc14)" opacity="0.6"><rect x="0" y="340" width="520" height="319" fill="#fff" filter="url(#spD)"/></g>
<path d="M33 586.4 C52 582 66 568 74 551 C71 570 58 582 46 587 Z" fill="#e6e8f7" opacity="1"/>
<path d="M36 585.6 C54 580 67 566 74.4 550" fill="none" stroke="#e6e8f7" stroke-width="1.7" opacity="1" stroke-linecap="round"/>
<path d="M72.4 526 C74.6 534 72.6 542 75 550" fill="none" stroke="#e4e2fa" stroke-width="1.5" opacity="1" stroke-linecap="round" filter="url(#bl05)"/>
<path d="M97 525 C99 544 98 566 100 585" fill="none" stroke="#e2e2f6" stroke-width="1.7" opacity="0.95" stroke-linecap="round" filter="url(#bl05)" stroke-dasharray="2 1.2"/>
<path d="M84 560 C86 568 85 576 86 584" fill="none" stroke="#cfc6ec" stroke-width="1.4" opacity="0.8" stroke-linecap="round" filter="url(#bl05)" stroke-dasharray="1.6 1.4"/>
<line x1="76.50" y1="546.40" x2="97.00" y2="546.40" stroke="#2a1a4a" stroke-width="0.6"/>
<circle cx="97.20" cy="546.40" r="0.9" fill="#2a1a4a" stroke="none" stroke-width="0.5"/>
<rect x="92.20" y="584.20" width="20.20" height="1.70" fill="#3a3934" stroke="none" stroke-width="1"/>
</g>
<rect x="29.30" y="522.50" width="84.50" height="63.80" fill="none" stroke="#2c2834" stroke-width="1.0"/>
<linearGradient id="gH2" x1="0" y1="0" x2="1" y2="0"><stop offset="0" stop-color="#7d3a9c"/><stop offset="0.55" stop-color="#84409e"/><stop offset="0.72" stop-color="#9e50ac"/><stop offset="0.87" stop-color="#a04cac"/><stop offset="0.9" stop-color="#e4e4f2"/><stop offset="1" stop-color="#e6e8f4"/></linearGradient>
<clipPath id="hc15"><path d="M29.3 588.3 h84.5 v63.7 h-84.5 Z"/></clipPath>
<g clip-path="url(#hc15)">
<rect x="29.30" y="588.30" width="84.50" height="63.70" fill="url(#gH2)" stroke="none" stroke-width="1"/>
<path d="M50 588 H80 C82 606 78 624 70 640 C60 636 52 616 50 588 Z" fill="#642c88" opacity="0.9" filter="url(#bl1)"/>
<clipPath id="hc16"><path d="M50 588 H82 C84 606 80 630 70 644 C58 636 52 616 50 588 Z"/></clipPath>
<g clip-path="url(#hc16)" opacity="1"><rect x="0" y="340" width="520" height="319" fill="#fff" filter="url(#laceW)"/></g>
<clipPath id="hc17"><path d="M50 588 H82 C84 606 80 630 70 644 C58 636 52 616 50 588 Z"/></clipPath>
<g clip-path="url(#hc17)" opacity="0.8"><rect x="0" y="340" width="520" height="319" fill="#fff" filter="url(#spW)"/></g>
<clipPath id="hc18"><path d="M29.3 588.3 h60 v64 h-60 Z"/></clipPath>
<g clip-path="url(#hc18)" opacity="0.3"><rect x="0" y="340" width="520" height="319" fill="#fff" filter="url(#spD)"/></g>
<path d="M29.5 618 C36 614 43 616 45 623 C48 631 44 639 39 639 C35 645 30 644 29.5 640 Z" fill="#f3f0f8" opacity="1"/>
<path d="M42 640 C46 636 50 640 49 646 C47 651 41 650 42 640 Z" fill="#f1eef7" opacity="1"/>
<path d="M51 641 C56 637 61 641 60 647 C57 652 50 650 51 641 Z" fill="#f1eef7" opacity="1"/>
<path d="M62 652 C68 646 76 640 84 637 C85 645 81 650 79 652 Z" fill="#f0ecf7" opacity="1"/>
<path d="M56 625 C60 621 66 623 64 629 C62 633 56 631 56 625 Z" fill="#ede6f5" opacity="1"/>
<path d="M91 592 C93 610 93 630 95 650" fill="none" stroke="#c88ecc" stroke-width="1.4" opacity="1" stroke-linecap="round" filter="url(#bl05)"/>
<path d="M78 618 C84 616 90 620 96 628" fill="none" stroke="#e4cfe8" stroke-width="1.1" opacity="0.8" stroke-linecap="round" filter="url(#bl05)"/>
<path d="M102.6 590 C103.6 610 103.6 630 104.4 650" fill="none" stroke="#8a3a9e" stroke-width="0.9" opacity="0.7" stroke-linecap="round"/>
<path d="M103 588 H114 V594 C110 592 106 594 103 588 Z" fill="#7b3596" opacity="0.9" filter="url(#bl05)"/>
<line x1="94.00" y1="622.60" x2="87.20" y2="622.60" stroke="#2a0a3a" stroke-width="0.75"/>
<path d="M86.00 622.60 l2 -1.1 v2.2 Z" fill="#2a0a3a"/>
<rect x="92.20" y="649.90" width="20.20" height="1.70" fill="#3a3934" stroke="none" stroke-width="1"/>
</g>
<rect x="29.30" y="588.30" width="84.50" height="63.70" fill="none" stroke="#2c2834" stroke-width="1.0"/>
<text x="-10.90" y="0.00" font-size="6.0" fill="#3c3c3c" stroke="#3c3c3c" stroke-width="0.132" font-weight="normal" font-style="normal" textLength="21.80" lengthAdjust="spacingAndGlyphs" transform="translate(24.40 553.70) rotate(-90)"><tspan font-style="italic">F8</tspan><tspan font-size="3.72" dy="-3.0" font-style="italic">em1–/–</tspan><tspan dy="3.0" font-size="6.0"></tspan></text>
<text x="-22.00" y="0.00" font-size="6.0" fill="#3c3c3c" stroke="#3c3c3c" stroke-width="0.132" font-weight="normal" font-style="normal" textLength="44.00" lengthAdjust="spacingAndGlyphs" transform="translate(24.40 619.80) rotate(-90)"><tspan font-style="italic">F8</tspan><tspan font-size="3.72" dy="-3.0" font-style="italic">em1–/–</tspan><tspan dy="3.0" font-size="6.0" font-style="italic">/Il1rl1</tspan><tspan font-size="3.72" dy="-3.0" font-style="italic">–/–</tspan></text>
</g>
<g id="histI">
<clipPath id="hc19"><path d="M280.8 522.5 h84.7 v63.8 h-84.7 Z"/></clipPath>
<g clip-path="url(#hc19)">
<rect x="280.80" y="522.50" width="84.70" height="63.80" fill="#d7d9ec" stroke="none" stroke-width="1"/>
<path d="M281 522 H353 C349 540 331 556 307 561 C297 563 288 561 281 558 Z" fill="#d3ceec" opacity="1" filter="url(#bl05)"/>
<clipPath id="hc20"><path d="M281 522 H353 C349 540 331 556 307 561 C297 563 288 561 281 558 Z"/></clipPath>
<g clip-path="url(#hc20)" opacity="0.9"><rect x="0" y="340" width="520" height="319" fill="#fff" filter="url(#spP)"/></g>
<clipPath id="hc21"><path d="M281 522 H353 C349 540 331 556 307 561 C297 563 288 561 281 558 Z"/></clipPath>
<g clip-path="url(#hc21)" opacity="0.5"><rect x="0" y="340" width="520" height="319" fill="#fff" filter="url(#laceW2)"/></g>
<clipPath id="hc22"><path d="M281 522 H353 C349 540 331 556 307 561 C297 563 288 561 281 558 Z"/></clipPath>
<g clip-path="url(#hc22)" opacity="0.12"><rect x="0" y="340" width="520" height="319" fill="#fff" filter="url(#spD)"/></g>
<path d="M281 558.6 C300 565 326 559.6 342 544 C350 536 354.6 528 356.6 522" fill="none" stroke="#d992bd" stroke-width="3.6" opacity="0.95" stroke-linecap="round" filter="url(#bl1)"/>
<path d="M281 563.6 C302 570 330 564 346 546 C354 537 360 528 362.4 522" fill="none" stroke="#f8f6fc" stroke-width="2.4" opacity="1" stroke-linecap="round" filter="url(#bl05)"/>
<path d="M356 522 H366 V560 C360 556 354 556 346 558 C354 548 360 536 356 522 Z" fill="#dccfe4" opacity="1" filter="url(#bl05)"/>
<path d="M299 587 C305 572 323 561 342 560 C352 559.6 361 562 366 565 V587 Z" fill="#dcd8f0" opacity="1" filter="url(#bl05)"/>
<clipPath id="hc23"><path d="M299 587 C305 572 323 561 342 560 C352 559.6 361 562 366 565 V587 Z"/></clipPath>
<g clip-path="url(#hc23)" opacity="0.45"><rect x="0" y="340" width="520" height="319" fill="#fff" filter="url(#spP)"/></g>
<path d="M300.6 585 C307 571 324 561 343 560.4 C353 560 361 562.4 366 565" fill="none" stroke="#e29fc6" stroke-width="2.6" opacity="0.9" stroke-linecap="round" filter="url(#bl1)"/>
<path d="M281 567 C290 570 297 571 303 571 C298 576 296 580 295 583 H281 Z" fill="#e0b4d4" opacity="0.85" filter="url(#bl1)"/>
<path d="M340 556.6 C349 554.4 359 555.4 366 558.6" fill="none" stroke="#f6f4fb" stroke-width="2.2" opacity="1" stroke-linecap="round" filter="url(#bl05)"/>
<rect x="343.90" y="584.20" width="20.20" height="1.70" fill="#3a3934" stroke="none" stroke-width="1"/>
</g>
<rect x="280.80" y="522.50" width="84.70" height="63.80" fill="none" stroke="#2c2834" stroke-width="1.0"/>
<clipPath id="hc24"><path d="M280.8 588.3 h84.7 v63.7 h-84.7 Z"/></clipPath>
<g clip-path="url(#hc24)">
<rect x="280.80" y="588.30" width="84.70" height="63.70" fill="#a6d0de" stroke="none" stroke-width="1"/>
<path d="M281 588 H351 C347 606 331 622 309 627 C299 629 288 628 281 626 Z" fill="#bcdae6" opacity="1" filter="url(#bl05)"/>
<path d="M281 588 H308 C304 598 296 604 281 606 Z" fill="#8f7eb4" opacity="0.6" filter="url(#bl1)"/>
<path d="M322 588 H348 C346 596 340 604 334 606 C328 602 324 596 322 588 Z" fill="#9088ba" opacity="0.5" filter="url(#bl1)"/>
<clipPath id="hc25"><path d="M281 588 H351 C347 606 331 622 309 627 C299 629 288 628 281 626 Z"/></clipPath>
<g clip-path="url(#hc25)" opacity="0.6"><rect x="0" y="340" width="520" height="319" fill="#fff" filter="url(#spP)"/></g>
<clipPath id="hc26"><path d="M281 588 H351 C347 606 331 622 309 627 C299 629 288 628 281 626 Z"/></clipPath>
<g clip-path="url(#hc26)" opacity="0.4"><rect x="0" y="340" width="520" height="319" fill="#fff" filter="url(#laceW2)"/></g>
<clipPath id="hc27"><path d="M281 588 H351 C347 606 331 622 309 627 C299 629 288 628 281 626 Z"/></clipPath>
<g clip-path="url(#hc27)" opacity="0.12"><rect x="0" y="340" width="520" height="319" fill="#fff" filter="url(#spD)"/></g>
<path d="M281 625 C300 631 327 625.6 343 610 C351 602 357 594 360.6 588" fill="none" stroke="#b2a6d0" stroke-width="2.6" opacity="0.9" stroke-linecap="round" filter="url(#bl1)"/>
<path d="M281 629.6 C302 636 332 630 348 612 C356 603 362 594 365 589" fill="none" stroke="#f6f8fd" stroke-width="2.3" opacity="1" stroke-linecap="round" filter="url(#bl05)"/>
<path d="M306 632.4 C326 626 350 628 366 638" fill="none" stroke="#f0f4fb" stroke-width="2.0" opacity="1" stroke-linecap="round" filter="url(#bl05)"/>
<path d="M299 652 C305 640 324 632.6 344 632.6 C354 632.6 362 636 366 640 V652 Z" fill="#a8d2de" opacity="1" filter="url(#bl05)"/>
<clipPath id="hc28"><path d="M299 652 C305 640 324 632.6 344 632.6 C354 632.6 362 636 366 640 V652 Z"/></clipPath>
<g clip-path="url(#hc28)" opacity="0.2"><rect x="0" y="340" width="520" height="319" fill="#fff" filter="url(#spP)"/></g>
<path d="M334 644 C336 640 342 640 342 646 C342 650 336 650 334 644 Z" fill="#f4f6fb" opacity="1" filter="url(#bl05)"/>
<path d="M281 632 C290 636 298 638 304 638 C300 644 298 650 298 652 H281 Z" fill="#aacfde" opacity="0.9" filter="url(#bl1)"/>
<rect x="343.90" y="649.90" width="20.20" height="1.70" fill="#3a3934" stroke="none" stroke-width="1"/>
</g>
<rect x="280.80" y="588.30" width="84.70" height="63.70" fill="none" stroke="#2c2834" stroke-width="1.0"/>
<text x="-10.60" y="0.00" font-size="6.0" fill="#3c3c3c" stroke="#3c3c3c" stroke-width="0.132" font-weight="normal" font-style="normal" textLength="21.20" lengthAdjust="spacingAndGlyphs" transform="translate(276.40 554.10) rotate(-90)"><tspan font-style="italic">F8</tspan><tspan font-size="3.72" dy="-3.0" font-style="italic">em1–/–</tspan><tspan dy="3.0" font-size="6.0"></tspan></text>
<text x="-21.70" y="0.00" font-size="6.0" fill="#3c3c3c" stroke="#3c3c3c" stroke-width="0.132" font-weight="normal" font-style="normal" textLength="43.40" lengthAdjust="spacingAndGlyphs" transform="translate(276.40 620.20) rotate(-90)"><tspan font-style="italic">F8</tspan><tspan font-size="3.72" dy="-3.0" font-style="italic">em1–/–</tspan><tspan dy="3.0" font-size="6.0" font-style="italic">/Il1rl1</tspan><tspan font-size="3.72" dy="-3.0" font-style="italic">–/–</tspan></text>
</g>
<rect x="0.55" y="0.5" width="518.9" height="658" fill="none" stroke="#4e4e4e" stroke-width="1.1"/>
</svg>
</body>
</html>
